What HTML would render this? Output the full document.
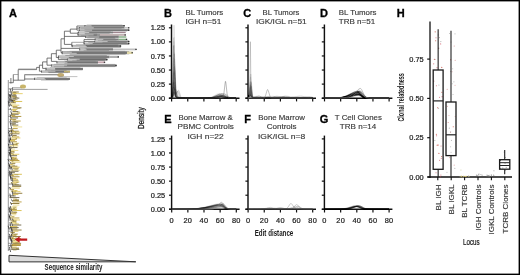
<!DOCTYPE html>
<html><head><meta charset="utf-8"><style>
html,body{margin:0;padding:0;background:#fff;}
body{width:520px;height:275px;overflow:hidden;}
svg{display:block;will-change:transform;}
text{font-family:"Liberation Sans", sans-serif;}
</style></head><body>
<svg width="520" height="275" viewBox="0 0 520 275">
<rect x="0" y="0" width="520" height="275" fill="#fff"/>
<line x1="171.5" y1="24.50" x2="171.5" y2="98.80" stroke="#111" stroke-width="1.45"/>
<line x1="168.90" y1="98.2" x2="239.50" y2="98.2" stroke="#111" stroke-width="1.4"/>
<line x1="168.90" y1="98.20" x2="171.5" y2="98.20" stroke="#111" stroke-width="1.2"/>
<text x="165.10" y="100.80" text-anchor="end" font-size="7.4" fill="#1e1e1e" stroke="#1e1e1e" stroke-width="0.22">0.00</text>
<line x1="168.90" y1="84.12" x2="171.5" y2="84.12" stroke="#111" stroke-width="1.2"/>
<text x="165.10" y="86.72" text-anchor="end" font-size="7.4" fill="#1e1e1e" stroke="#1e1e1e" stroke-width="0.22">0.25</text>
<line x1="168.90" y1="70.04" x2="171.5" y2="70.04" stroke="#111" stroke-width="1.2"/>
<text x="165.10" y="72.64" text-anchor="end" font-size="7.4" fill="#1e1e1e" stroke="#1e1e1e" stroke-width="0.22">0.50</text>
<line x1="168.90" y1="55.96" x2="171.5" y2="55.96" stroke="#111" stroke-width="1.2"/>
<text x="165.10" y="58.56" text-anchor="end" font-size="7.4" fill="#1e1e1e" stroke="#1e1e1e" stroke-width="0.22">0.75</text>
<line x1="168.90" y1="41.88" x2="171.5" y2="41.88" stroke="#111" stroke-width="1.2"/>
<text x="165.10" y="44.48" text-anchor="end" font-size="7.4" fill="#1e1e1e" stroke="#1e1e1e" stroke-width="0.22">1.00</text>
<line x1="168.90" y1="27.80" x2="171.5" y2="27.80" stroke="#111" stroke-width="1.2"/>
<text x="165.10" y="30.40" text-anchor="end" font-size="7.4" fill="#1e1e1e" stroke="#1e1e1e" stroke-width="0.22">1.25</text>
<line x1="171.60" y1="98.2" x2="171.60" y2="101.40" stroke="#111" stroke-width="1.2"/>
<line x1="187.75" y1="98.2" x2="187.75" y2="101.40" stroke="#111" stroke-width="1.2"/>
<line x1="203.90" y1="98.2" x2="203.90" y2="101.40" stroke="#111" stroke-width="1.2"/>
<line x1="220.05" y1="98.2" x2="220.05" y2="101.40" stroke="#111" stroke-width="1.2"/>
<line x1="236.20" y1="98.2" x2="236.20" y2="101.40" stroke="#111" stroke-width="1.2"/>
<line x1="248.0" y1="24.50" x2="248.0" y2="98.80" stroke="#111" stroke-width="1.45"/>
<line x1="245.40" y1="98.2" x2="316.00" y2="98.2" stroke="#111" stroke-width="1.4"/>
<line x1="245.40" y1="98.20" x2="248.0" y2="98.20" stroke="#111" stroke-width="1.2"/>
<line x1="245.40" y1="84.12" x2="248.0" y2="84.12" stroke="#111" stroke-width="1.2"/>
<line x1="245.40" y1="70.04" x2="248.0" y2="70.04" stroke="#111" stroke-width="1.2"/>
<line x1="245.40" y1="55.96" x2="248.0" y2="55.96" stroke="#111" stroke-width="1.2"/>
<line x1="245.40" y1="41.88" x2="248.0" y2="41.88" stroke="#111" stroke-width="1.2"/>
<line x1="245.40" y1="27.80" x2="248.0" y2="27.80" stroke="#111" stroke-width="1.2"/>
<line x1="248.10" y1="98.2" x2="248.10" y2="101.40" stroke="#111" stroke-width="1.2"/>
<line x1="264.25" y1="98.2" x2="264.25" y2="101.40" stroke="#111" stroke-width="1.2"/>
<line x1="280.40" y1="98.2" x2="280.40" y2="101.40" stroke="#111" stroke-width="1.2"/>
<line x1="296.55" y1="98.2" x2="296.55" y2="101.40" stroke="#111" stroke-width="1.2"/>
<line x1="312.70" y1="98.2" x2="312.70" y2="101.40" stroke="#111" stroke-width="1.2"/>
<line x1="324.4" y1="24.50" x2="324.4" y2="98.80" stroke="#111" stroke-width="1.45"/>
<line x1="321.80" y1="98.2" x2="392.40" y2="98.2" stroke="#111" stroke-width="1.4"/>
<line x1="321.80" y1="98.20" x2="324.4" y2="98.20" stroke="#111" stroke-width="1.2"/>
<line x1="321.80" y1="84.12" x2="324.4" y2="84.12" stroke="#111" stroke-width="1.2"/>
<line x1="321.80" y1="70.04" x2="324.4" y2="70.04" stroke="#111" stroke-width="1.2"/>
<line x1="321.80" y1="55.96" x2="324.4" y2="55.96" stroke="#111" stroke-width="1.2"/>
<line x1="321.80" y1="41.88" x2="324.4" y2="41.88" stroke="#111" stroke-width="1.2"/>
<line x1="321.80" y1="27.80" x2="324.4" y2="27.80" stroke="#111" stroke-width="1.2"/>
<line x1="324.50" y1="98.2" x2="324.50" y2="101.40" stroke="#111" stroke-width="1.2"/>
<line x1="340.65" y1="98.2" x2="340.65" y2="101.40" stroke="#111" stroke-width="1.2"/>
<line x1="356.80" y1="98.2" x2="356.80" y2="101.40" stroke="#111" stroke-width="1.2"/>
<line x1="372.95" y1="98.2" x2="372.95" y2="101.40" stroke="#111" stroke-width="1.2"/>
<line x1="389.10" y1="98.2" x2="389.10" y2="101.40" stroke="#111" stroke-width="1.2"/>
<line x1="171.6" y1="135.60" x2="171.6" y2="209.90" stroke="#111" stroke-width="1.45"/>
<line x1="169.00" y1="209.3" x2="239.60" y2="209.3" stroke="#111" stroke-width="1.4"/>
<line x1="169.00" y1="209.30" x2="171.6" y2="209.30" stroke="#111" stroke-width="1.2"/>
<text x="165.20" y="211.90" text-anchor="end" font-size="7.4" fill="#1e1e1e" stroke="#1e1e1e" stroke-width="0.22">0.00</text>
<line x1="169.00" y1="195.22" x2="171.6" y2="195.22" stroke="#111" stroke-width="1.2"/>
<text x="165.20" y="197.82" text-anchor="end" font-size="7.4" fill="#1e1e1e" stroke="#1e1e1e" stroke-width="0.22">0.25</text>
<line x1="169.00" y1="181.14" x2="171.6" y2="181.14" stroke="#111" stroke-width="1.2"/>
<text x="165.20" y="183.74" text-anchor="end" font-size="7.4" fill="#1e1e1e" stroke="#1e1e1e" stroke-width="0.22">0.50</text>
<line x1="169.00" y1="167.06" x2="171.6" y2="167.06" stroke="#111" stroke-width="1.2"/>
<text x="165.20" y="169.66" text-anchor="end" font-size="7.4" fill="#1e1e1e" stroke="#1e1e1e" stroke-width="0.22">0.75</text>
<line x1="169.00" y1="152.98" x2="171.6" y2="152.98" stroke="#111" stroke-width="1.2"/>
<text x="165.20" y="155.58" text-anchor="end" font-size="7.4" fill="#1e1e1e" stroke="#1e1e1e" stroke-width="0.22">1.00</text>
<line x1="169.00" y1="138.90" x2="171.6" y2="138.90" stroke="#111" stroke-width="1.2"/>
<text x="165.20" y="141.50" text-anchor="end" font-size="7.4" fill="#1e1e1e" stroke="#1e1e1e" stroke-width="0.22">1.25</text>
<line x1="171.70" y1="209.3" x2="171.70" y2="212.50" stroke="#111" stroke-width="1.2"/>
<text x="171.70" y="222.70" text-anchor="middle" font-size="7.4" letter-spacing="0.3" fill="#1e1e1e" stroke="#1e1e1e" stroke-width="0.22">0</text>
<line x1="187.85" y1="209.3" x2="187.85" y2="212.50" stroke="#111" stroke-width="1.2"/>
<text x="187.85" y="222.70" text-anchor="middle" font-size="7.4" letter-spacing="0.3" fill="#1e1e1e" stroke="#1e1e1e" stroke-width="0.22">20</text>
<line x1="204.00" y1="209.3" x2="204.00" y2="212.50" stroke="#111" stroke-width="1.2"/>
<text x="204.00" y="222.70" text-anchor="middle" font-size="7.4" letter-spacing="0.3" fill="#1e1e1e" stroke="#1e1e1e" stroke-width="0.22">40</text>
<line x1="220.15" y1="209.3" x2="220.15" y2="212.50" stroke="#111" stroke-width="1.2"/>
<text x="220.15" y="222.70" text-anchor="middle" font-size="7.4" letter-spacing="0.3" fill="#1e1e1e" stroke="#1e1e1e" stroke-width="0.22">60</text>
<line x1="236.30" y1="209.3" x2="236.30" y2="212.50" stroke="#111" stroke-width="1.2"/>
<text x="236.30" y="222.70" text-anchor="middle" font-size="7.4" letter-spacing="0.3" fill="#1e1e1e" stroke="#1e1e1e" stroke-width="0.22">80</text>
<line x1="248.0" y1="135.60" x2="248.0" y2="209.90" stroke="#111" stroke-width="1.45"/>
<line x1="245.40" y1="209.3" x2="316.00" y2="209.3" stroke="#111" stroke-width="1.4"/>
<line x1="245.40" y1="209.30" x2="248.0" y2="209.30" stroke="#111" stroke-width="1.2"/>
<line x1="245.40" y1="195.22" x2="248.0" y2="195.22" stroke="#111" stroke-width="1.2"/>
<line x1="245.40" y1="181.14" x2="248.0" y2="181.14" stroke="#111" stroke-width="1.2"/>
<line x1="245.40" y1="167.06" x2="248.0" y2="167.06" stroke="#111" stroke-width="1.2"/>
<line x1="245.40" y1="152.98" x2="248.0" y2="152.98" stroke="#111" stroke-width="1.2"/>
<line x1="245.40" y1="138.90" x2="248.0" y2="138.90" stroke="#111" stroke-width="1.2"/>
<line x1="248.10" y1="209.3" x2="248.10" y2="212.50" stroke="#111" stroke-width="1.2"/>
<text x="248.10" y="222.70" text-anchor="middle" font-size="7.4" letter-spacing="0.3" fill="#1e1e1e" stroke="#1e1e1e" stroke-width="0.22">0</text>
<line x1="264.25" y1="209.3" x2="264.25" y2="212.50" stroke="#111" stroke-width="1.2"/>
<text x="264.25" y="222.70" text-anchor="middle" font-size="7.4" letter-spacing="0.3" fill="#1e1e1e" stroke="#1e1e1e" stroke-width="0.22">20</text>
<line x1="280.40" y1="209.3" x2="280.40" y2="212.50" stroke="#111" stroke-width="1.2"/>
<text x="280.40" y="222.70" text-anchor="middle" font-size="7.4" letter-spacing="0.3" fill="#1e1e1e" stroke="#1e1e1e" stroke-width="0.22">40</text>
<line x1="296.55" y1="209.3" x2="296.55" y2="212.50" stroke="#111" stroke-width="1.2"/>
<text x="296.55" y="222.70" text-anchor="middle" font-size="7.4" letter-spacing="0.3" fill="#1e1e1e" stroke="#1e1e1e" stroke-width="0.22">60</text>
<line x1="312.70" y1="209.3" x2="312.70" y2="212.50" stroke="#111" stroke-width="1.2"/>
<text x="312.70" y="222.70" text-anchor="middle" font-size="7.4" letter-spacing="0.3" fill="#1e1e1e" stroke="#1e1e1e" stroke-width="0.22">80</text>
<line x1="324.4" y1="135.60" x2="324.4" y2="209.90" stroke="#111" stroke-width="1.45"/>
<line x1="321.80" y1="209.3" x2="392.40" y2="209.3" stroke="#111" stroke-width="1.4"/>
<line x1="321.80" y1="209.30" x2="324.4" y2="209.30" stroke="#111" stroke-width="1.2"/>
<line x1="321.80" y1="195.22" x2="324.4" y2="195.22" stroke="#111" stroke-width="1.2"/>
<line x1="321.80" y1="181.14" x2="324.4" y2="181.14" stroke="#111" stroke-width="1.2"/>
<line x1="321.80" y1="167.06" x2="324.4" y2="167.06" stroke="#111" stroke-width="1.2"/>
<line x1="321.80" y1="152.98" x2="324.4" y2="152.98" stroke="#111" stroke-width="1.2"/>
<line x1="321.80" y1="138.90" x2="324.4" y2="138.90" stroke="#111" stroke-width="1.2"/>
<line x1="324.50" y1="209.3" x2="324.50" y2="212.50" stroke="#111" stroke-width="1.2"/>
<text x="324.50" y="222.70" text-anchor="middle" font-size="7.4" letter-spacing="0.3" fill="#1e1e1e" stroke="#1e1e1e" stroke-width="0.22">0</text>
<line x1="340.65" y1="209.3" x2="340.65" y2="212.50" stroke="#111" stroke-width="1.2"/>
<text x="340.65" y="222.70" text-anchor="middle" font-size="7.4" letter-spacing="0.3" fill="#1e1e1e" stroke="#1e1e1e" stroke-width="0.22">20</text>
<line x1="356.80" y1="209.3" x2="356.80" y2="212.50" stroke="#111" stroke-width="1.2"/>
<text x="356.80" y="222.70" text-anchor="middle" font-size="7.4" letter-spacing="0.3" fill="#1e1e1e" stroke="#1e1e1e" stroke-width="0.22">40</text>
<line x1="372.95" y1="209.3" x2="372.95" y2="212.50" stroke="#111" stroke-width="1.2"/>
<text x="372.95" y="222.70" text-anchor="middle" font-size="7.4" letter-spacing="0.3" fill="#1e1e1e" stroke="#1e1e1e" stroke-width="0.22">60</text>
<line x1="389.10" y1="209.3" x2="389.10" y2="212.50" stroke="#111" stroke-width="1.2"/>
<text x="389.10" y="222.70" text-anchor="middle" font-size="7.4" letter-spacing="0.3" fill="#1e1e1e" stroke="#1e1e1e" stroke-width="0.22">80</text>
<polyline points="171.5,97.9 171.8,97.5 172.1,96.2 172.6,90.0 173.6,53.0 173.9,45.4 174.1,45.1 175.4,88.3 175.9,95.3 176.2,96.8 176.5,97.3 178.6,97.7 183.6,97.9 211.1,97.9 215.3,97.7 220.6,96.6 222.7,96.4 228.0,97.8 236.1,98.0" fill="none" stroke="#000" stroke-width="0.45" stroke-opacity="0.16"/>
<polyline points="171.5,97.9 172.1,97.7 172.6,97.0 172.8,94.0 174.1,89.5 174.4,88.7 174.7,88.5 175.4,88.9 176.2,90.2 178.3,96.5 179.1,97.4 180.1,97.7 187.5,97.9 212.4,98.0 216.1,97.8 223.3,97.0 228.7,97.9 236.1,98.0" fill="none" stroke="#000" stroke-width="0.45" stroke-opacity="0.16"/>
<polyline points="171.5,97.9 172.1,97.7 172.6,96.9 173.1,93.0 174.4,71.4 174.7,69.4 175.1,71.5 176.0,88.1 176.5,93.1 177.3,96.3 177.8,97.1 178.4,97.6 179.7,97.8 183.9,97.9 208.0,97.9 211.6,97.7 216.7,96.6 218.8,96.4 220.1,96.6 222.9,97.6 224.5,97.9 236.1,98.0" fill="none" stroke="#000" stroke-width="0.45" stroke-opacity="0.16"/>
<polyline points="171.5,97.8 172.0,96.9 172.3,95.0 173.0,85.9 173.4,82.6 173.8,83.9 174.9,95.5 175.4,96.8 176.2,97.3 179.4,97.7 184.3,97.9 211.9,97.9 215.8,97.4 220.9,95.5 223.0,95.2 224.1,95.5 226.7,97.1 228.3,97.7 230.4,98.0 236.1,98.0" fill="none" stroke="#000" stroke-width="0.45" stroke-opacity="0.16"/>
<polyline points="171.5,98.0 172.1,97.8 172.5,96.7 172.8,91.5 173.8,43.1 173.9,37.7 174.1,36.9 175.1,85.9 175.4,94.1 175.7,96.8 176.0,97.4 178.3,97.8 183.5,97.9 212.4,97.9 216.2,97.6 221.4,96.1 223.5,95.9 224.6,96.1 227.2,97.3 228.8,97.8 236.1,98.0" fill="none" stroke="#000" stroke-width="0.45" stroke-opacity="0.16"/>
<polyline points="171.5,98.0 172.3,97.9 172.6,96.9 173.1,85.4 173.8,60.6 174.1,66.7 174.7,92.5 175.1,96.1 175.5,96.9 178.8,97.6 183.6,97.9 210.3,97.9 212.2,97.6 214.0,97.0 219.1,93.9 221.1,93.4 222.2,93.8 225.0,96.6 226.7,97.7 229.0,98.0 236.1,98.0" fill="none" stroke="#000" stroke-width="0.45" stroke-opacity="0.16"/>
<polyline points="171.5,97.9 171.8,97.6 172.1,95.6 172.5,89.0 173.1,54.7 173.4,46.1 174.4,87.8 174.7,94.5 175.1,96.6 175.4,97.0 178.1,97.6 182.6,97.9 208.0,98.0 213.5,97.8 221.2,96.8 226.7,97.9 236.1,98.0" fill="none" stroke="#000" stroke-width="0.45" stroke-opacity="0.16"/>
<polyline points="171.5,98.0 172.6,98.0 172.8,96.7 173.1,96.6 173.4,96.0 174.4,92.5 174.7,93.1 175.7,97.1 176.2,97.5 177.5,97.7 185.6,98.0 212.8,97.9 216.6,97.7 221.7,96.8 223.8,96.7 229.2,97.9 236.1,98.0" fill="none" stroke="#000" stroke-width="0.45" stroke-opacity="0.16"/>
<polyline points="171.5,98.0 172.0,97.9 172.3,97.4 172.6,94.1 173.3,65.2 173.6,57.7 174.4,90.5 174.7,95.7 174.9,96.5 175.2,96.9 178.1,97.6 182.8,97.9 209.3,98.0 214.0,97.7 219.6,96.6 221.7,96.4 227.1,97.8 236.1,98.0" fill="none" stroke="#000" stroke-width="0.45" stroke-opacity="0.16"/>
<polyline points="171.5,97.9 172.0,97.4 172.3,96.8 172.6,95.7 172.8,93.8 173.3,92.2 173.6,91.7 173.9,92.1 175.1,94.9 175.4,95.0 176.2,94.6 176.7,94.7 178.6,97.2 179.3,97.6 180.2,97.8 193.0,98.0 214.8,97.8 218.2,97.2 223.3,94.4 225.4,94.0 226.6,94.4 229.0,96.6 230.4,97.5 232.4,97.9 236.1,98.0" fill="none" stroke="#000" stroke-width="0.45" stroke-opacity="0.16"/>
<polyline points="171.5,98.0 172.6,98.0 172.8,96.8 173.1,96.7 173.4,95.9 174.6,85.5 175.7,96.3 176.0,97.3 176.5,97.6 185.4,98.0 204.3,98.0 208.5,97.8 210.3,97.5 211.9,97.0 213.5,96.1 217.0,93.8 219.0,93.2 220.1,93.7 223.0,96.7 224.8,97.7 227.1,98.0 236.1,98.0" fill="none" stroke="#000" stroke-width="0.45" stroke-opacity="0.16"/>
<polyline points="171.5,97.7 172.0,97.0 172.5,95.1 172.8,91.3 173.4,87.5 173.8,86.8 174.1,87.4 175.1,92.8 175.7,94.8 177.8,97.0 179.3,97.7 186.8,98.0 211.9,97.9 215.4,97.6 220.4,96.4 222.5,96.2 223.7,96.3 226.4,97.5 228.0,97.8 236.1,98.0" fill="none" stroke="#000" stroke-width="0.45" stroke-opacity="0.16"/>
<polyline points="171.5,97.9 171.8,97.6 172.1,96.5 172.6,89.6 173.6,47.4 173.9,41.4 174.2,47.9 175.2,89.4 175.5,94.8 175.9,96.8 176.2,97.5 177.8,97.8 183.1,97.9 213.3,97.9 217.4,97.7 222.5,96.6 224.6,96.4 225.8,96.6 229.8,97.8 236.1,98.0" fill="none" stroke="#000" stroke-width="0.45" stroke-opacity="0.16"/>
<polyline points="171.5,98.0 172.1,97.9 172.6,97.5 172.8,94.6 173.3,93.6 174.2,89.8 174.6,89.4 175.1,90.4 176.0,95.1 176.5,96.5 177.2,97.2 178.4,97.5 186.5,97.9 214.1,97.9 217.9,97.7 223.2,96.5 225.1,96.4 226.2,96.5 230.3,97.8 236.1,98.0" fill="none" stroke="#000" stroke-width="0.45" stroke-opacity="0.16"/>
<polyline points="171.5,97.9 172.1,97.6 172.6,96.7 173.4,90.1 174.2,79.7 174.6,77.5 174.7,77.5 175.1,79.2 175.9,88.1 176.5,93.1 177.5,96.5 178.0,97.2 178.6,97.6 180.2,97.8 185.9,98.0 209.6,97.8 213.0,97.2 218.0,94.8 220.1,94.4 221.4,94.9 224.1,97.1 225.8,97.7 228.0,98.0 236.1,98.0" fill="none" stroke="#000" stroke-width="0.45" stroke-opacity="0.16"/>
<polyline points="171.5,98.0 172.1,97.9 172.6,97.6 172.8,95.6 173.3,94.3 174.4,88.6 174.6,88.7 174.9,89.8 176.0,96.3 176.5,97.2 177.5,97.5 185.1,97.9 208.0,97.9 211.6,97.6 216.7,96.5 218.8,96.2 220.1,96.5 223.0,97.6 224.6,97.9 236.1,98.0" fill="none" stroke="#000" stroke-width="0.45" stroke-opacity="0.16"/>
<polyline points="171.5,98.0 172.1,97.9 172.6,97.7 173.4,94.6 174.2,90.1 174.6,89.5 174.9,90.4 175.9,95.8 176.3,97.0 176.8,97.1 178.0,96.7 178.6,96.6 180.4,97.6 181.4,97.8 209.9,97.9 213.2,97.4 218.2,95.7 220.3,95.4 221.4,95.6 224.1,97.2 225.9,97.8 228.2,98.0 236.1,98.0" fill="none" stroke="#000" stroke-width="0.45" stroke-opacity="0.16"/>
<polyline points="171.5,97.9 171.8,97.6 172.1,96.7 172.5,94.4 173.4,74.4 173.8,72.4 175.1,88.3 177.3,95.8 178.0,97.0 178.6,97.5 180.4,97.8 185.9,97.9 214.6,97.9 218.3,97.3 223.3,95.0 225.4,94.5 226.6,94.9 229.2,96.9 230.6,97.6 232.4,97.9 236.1,98.0" fill="none" stroke="#000" stroke-width="0.45" stroke-opacity="0.16"/>
<polyline points="171.5,98.0 172.6,98.0 172.8,97.1 173.3,96.5 173.9,93.5 174.2,93.0 175.2,97.1 175.5,97.5 176.3,97.7 186.8,98.0 208.6,98.0 212.8,97.8 214.6,97.5 216.2,97.0 217.9,96.2 221.4,93.9 223.3,93.3 224.5,93.7 227.2,96.6 228.8,97.6 230.9,97.9 236.1,98.0" fill="none" stroke="#000" stroke-width="0.45" stroke-opacity="0.16"/>
<polyline points="171.5,98.0 172.1,97.7 172.6,96.2 173.3,84.8 173.9,67.6 174.2,63.9 174.6,67.2 175.5,91.6 176.0,96.1 176.3,97.0 176.7,97.3 179.4,97.7 184.1,97.9 208.0,97.9 211.7,97.4 216.9,95.3 218.8,95.0 220.0,95.3 222.9,97.2 224.6,97.8 227.1,98.0 236.1,98.0" fill="none" stroke="#000" stroke-width="0.45" stroke-opacity="0.16"/>
<polyline points="171.5,98.0 172.1,97.6 172.6,96.3 173.3,87.6 174.2,68.6 174.6,66.1 175.1,70.5 176.2,92.4 176.7,96.0 177.0,96.9 177.5,97.3 180.2,97.7 185.1,97.9 210.1,97.9 213.7,97.3 218.8,94.9 220.9,94.4 222.2,94.9 225.0,97.1 226.6,97.7 228.8,98.0 236.1,98.0" fill="none" stroke="#000" stroke-width="0.45" stroke-opacity="0.16"/>
<polyline points="171.5,98.0 172.3,97.9 172.6,97.6 173.3,91.3 174.2,63.1 174.6,58.8 174.9,63.6 175.9,92.4 176.2,95.8 176.5,97.0 176.8,97.4 179.4,97.7 184.4,97.9 211.9,97.9 215.6,97.5 220.8,95.9 222.9,95.6 224.0,95.9 226.7,97.3 228.3,97.8 236.1,98.0" fill="none" stroke="#000" stroke-width="0.45" stroke-opacity="0.16"/>
<polyline points="171.5,98.0 172.6,97.9 172.8,95.7 173.1,94.8 173.3,93.4 174.2,71.1 175.1,92.2 175.4,96.1 175.5,96.7 175.9,97.1 178.9,97.7 183.8,97.9 212.2,97.9 216.2,97.5 221.6,95.9 223.7,95.6 224.8,95.9 227.4,97.3 229.0,97.8 230.9,97.9 236.1,98.0" fill="none" stroke="#000" stroke-width="0.45" stroke-opacity="0.16"/>
<polyline points="171.5,98.0 172.1,97.7 172.6,95.5 173.1,85.4 173.9,57.5 174.1,54.7 174.2,54.4 175.5,92.2 175.9,95.7 176.2,97.0 176.5,97.4 179.1,97.7 183.9,97.9 207.8,97.9 211.4,97.3 216.4,95.2 218.5,94.8 219.6,95.1 222.5,97.1 224.3,97.8 226.7,98.0 236.1,98.0" fill="none" stroke="#000" stroke-width="0.45" stroke-opacity="0.16"/>
<polyline points="171.5,97.6 172.0,96.5 172.3,94.6 173.3,82.8 173.6,80.6 173.8,80.4 174.1,82.0 175.2,94.4 175.7,96.6 176.0,97.2 176.5,97.5 179.1,97.8 183.8,97.9 208.5,98.0 212.7,97.8 220.3,97.1 225.9,97.9 236.1,98.0" fill="none" stroke="#000" stroke-width="0.45" stroke-opacity="0.16"/>
<polyline points="171.5,98.0 172.6,97.9 172.8,96.5 173.1,96.3 173.4,95.5 174.2,91.5 174.6,92.2 175.2,96.1 175.5,97.0 176.0,97.4 177.3,97.6 186.5,98.0 210.9,97.8 212.7,97.6 214.3,97.1 215.9,96.3 219.5,94.2 220.6,93.7 221.6,93.6 222.7,94.1 225.4,96.8 227.1,97.6 229.3,97.9 236.1,98.0" fill="none" stroke="#000" stroke-width="0.45" stroke-opacity="0.16"/>
<polyline points="171.5,98.0 172.6,97.9 172.8,95.9 173.1,95.3 173.4,93.1 174.2,83.5 174.6,85.3 175.4,95.6 175.7,96.9 176.3,97.4 179.6,97.7 184.6,97.9 213.7,97.9 217.4,97.5 222.7,95.9 224.8,95.6 225.9,95.9 228.5,97.3 230.0,97.7 231.9,97.9 236.1,98.0" fill="none" stroke="#000" stroke-width="0.45" stroke-opacity="0.16"/>
<polyline points="171.5,98.0 172.3,97.9 172.6,97.3 173.6,82.5 173.8,80.7 173.9,80.7 174.9,95.7 175.2,97.1 175.7,97.4 179.1,97.8 184.4,97.9 212.7,97.8 214.6,97.6 216.2,97.1 217.9,96.3 221.4,94.0 222.5,93.5 223.5,93.4 224.6,93.9 227.2,96.6 228.8,97.6 230.9,97.9 236.1,98.0" fill="none" stroke="#000" stroke-width="0.45" stroke-opacity="0.16"/>
<polyline points="171.5,97.9 172.0,97.6 172.5,96.2 172.8,92.0 173.4,87.6 173.8,86.8 174.9,90.9 176.0,92.1 177.6,96.2 178.4,97.2 179.4,97.6 187.2,97.9 211.2,97.9 214.8,97.5 219.8,96.2 221.9,95.9 223.0,96.1 225.8,97.4 227.4,97.8 236.1,98.0" fill="none" stroke="#000" stroke-width="0.45" stroke-opacity="0.16"/>
<polyline points="171.5,98.0 172.6,97.9 172.8,96.1 173.1,96.1 173.4,95.7 174.4,92.6 174.7,92.3 176.2,97.0 176.8,97.4 178.6,97.7 187.5,98.0 208.2,97.8 211.6,97.2 216.6,94.8 218.7,94.3 220.0,94.8 222.9,97.2 224.5,97.8 226.7,98.0 236.1,98.0" fill="none" stroke="#000" stroke-width="0.45" stroke-opacity="0.16"/>
<polyline points="171.5,97.9 172.0,97.5 172.5,96.6 173.1,93.6 173.6,92.3 173.9,92.1 174.2,92.4 175.4,95.3 176.0,96.4 177.3,97.4 178.8,97.8 187.2,98.0 213.7,97.9 217.2,97.6 222.2,96.4 224.3,96.2 225.4,96.4 228.0,97.4 229.6,97.8 236.1,98.0" fill="none" stroke="#000" stroke-width="0.45" stroke-opacity="0.16"/>
<polyline points="171.5,97.5 172.0,96.0 172.3,93.9 172.8,86.8 173.4,82.3 173.6,82.4 173.9,84.5 175.1,95.2 175.5,96.7 176.3,97.3 179.6,97.7 184.7,97.9 213.3,97.9 215.3,97.6 217.0,97.0 218.7,96.2 222.0,94.0 223.2,93.5 224.1,93.4 225.3,93.8 227.9,96.5 229.5,97.5 231.4,97.9 236.1,98.0" fill="none" stroke="#000" stroke-width="0.45" stroke-opacity="0.16"/>
<polyline points="171.5,97.8 172.0,97.3 172.5,95.9 173.4,88.2 173.9,86.9 176.7,95.8 177.5,97.2 178.6,97.7 186.2,98.0 209.1,97.9 212.5,97.6 217.5,96.3 219.6,96.1 220.8,96.3 223.5,97.4 225.3,97.8 236.1,98.0" fill="none" stroke="#000" stroke-width="0.45" stroke-opacity="0.16"/>
<polyline points="171.5,98.0 172.1,97.8 172.6,96.8 174.1,74.0 174.2,72.7 174.4,72.6 175.4,88.1 175.9,93.0 176.0,93.5 176.2,93.7 176.3,93.6 177.3,91.3 177.6,91.0 178.0,91.1 178.4,92.0 179.9,96.3 180.4,97.1 181.0,97.6 182.3,97.8 186.7,97.9 213.8,97.9 217.7,97.7 222.9,96.9 225.0,96.8 230.1,97.9 236.1,98.0" fill="none" stroke="#000" stroke-width="0.45" stroke-opacity="0.16"/>
<polyline points="171.5,98.0 172.6,98.0 172.8,95.5 173.1,95.3 173.3,94.9 174.2,82.5 174.4,82.2 175.4,95.3 175.7,96.7 176.3,97.2 179.6,97.7 184.3,97.9 210.1,97.9 213.8,97.4 219.0,95.3 221.1,94.9 222.4,95.3 225.1,97.2 226.7,97.8 229.0,98.0 236.1,98.0" fill="none" stroke="#000" stroke-width="0.45" stroke-opacity="0.16"/>
<polyline points="171.5,97.9 172.1,97.3 172.6,95.8 172.8,92.8 173.9,83.8 174.4,81.5 174.6,81.5 174.9,82.7 175.7,88.5 176.2,90.7 176.5,91.2 177.3,91.3 177.6,91.6 179.6,96.6 180.2,97.4 180.9,97.7 188.6,98.0 213.7,97.9 217.0,97.3 222.2,95.0 224.3,94.6 225.4,95.0 228.0,97.0 229.5,97.6 231.4,97.9 236.1,98.0" fill="none" stroke="#000" stroke-width="0.45" stroke-opacity="0.16"/>
<polyline points="171.5,94.9 172.0,88.3 172.3,80.1 173.3,43.7 173.6,38.1 173.8,37.8 174.2,47.1 175.5,89.0 176.0,94.7 176.3,96.2 176.8,97.1 177.5,97.4 179.1,97.6 184.1,97.9 212.5,97.9 216.7,97.6 222.0,96.1 224.1,95.9 225.3,96.1 227.9,97.4 229.3,97.8 236.1,98.0" fill="none" stroke="#000" stroke-width="0.45" stroke-opacity="0.16"/>
<polyline points="171.5,98.0 172.6,97.9 172.8,97.1 173.1,97.0 173.4,96.4 174.2,93.3 174.6,92.8 175.7,96.9 176.2,97.6 176.8,97.7 185.9,98.0 213.2,97.9 216.7,97.4 221.9,95.5 224.0,95.2 225.1,95.5 227.7,97.2 229.2,97.7 231.3,97.9 236.1,98.0" fill="none" stroke="#000" stroke-width="0.45" stroke-opacity="0.16"/>
<polyline points="171.5,97.9 172.6,97.5 172.8,95.6 173.1,95.1 173.4,92.6 174.2,59.2 174.4,54.0 174.6,53.7 175.5,88.6 175.9,91.0 177.0,94.7 177.6,96.4 178.4,97.4 179.7,97.8 183.6,97.9 208.2,97.9 212.0,97.7 217.4,96.7 219.5,96.5 220.6,96.7 223.5,97.6 225.1,97.9 236.1,98.0" fill="none" stroke="#000" stroke-width="0.45" stroke-opacity="0.16"/>
<polyline points="171.5,97.8 172.1,96.8 172.6,93.9 173.9,71.0 174.2,67.8 174.4,67.6 174.9,72.3 175.9,89.7 176.3,93.6 176.5,94.1 176.7,94.2 176.8,94.1 178.1,90.5 178.6,90.2 179.3,91.4 180.7,96.3 181.2,97.1 181.8,97.7 182.8,97.9 186.0,97.9 208.5,97.9 211.9,97.6 216.9,96.5 219.0,96.3 220.3,96.5 223.2,97.6 224.8,97.9 236.1,98.0" fill="none" stroke="#000" stroke-width="0.45" stroke-opacity="0.16"/>
<polyline points="171.5,97.5 172.0,95.9 172.3,93.3 173.3,76.1 173.8,71.4 173.9,71.6 174.2,74.9 175.4,93.2 175.9,96.3 176.2,97.1 176.7,97.5 179.3,97.8 184.3,97.9 211.4,97.9 215.1,97.6 220.3,96.2 222.4,95.9 223.5,96.1 226.2,97.4 227.9,97.8 236.1,98.0" fill="none" stroke="#000" stroke-width="0.45" stroke-opacity="0.16"/>
<polyline points="171.5,97.9 172.1,97.8 172.6,97.3 172.8,95.8 173.9,92.1 174.2,91.3 174.6,91.0 175.1,92.1 176.3,96.7 177.0,97.5 177.8,97.7 186.8,98.0 211.6,97.9 214.9,97.3 220.1,95.2 222.2,94.9 223.3,95.2 226.2,97.2 227.7,97.8 229.8,98.0 236.1,98.0" fill="none" stroke="#000" stroke-width="0.45" stroke-opacity="0.16"/>
<polyline points="171.5,98.0 172.1,97.6 172.6,95.8 173.8,76.2 174.1,73.3 174.4,75.2 175.5,94.1 176.0,96.6 176.7,97.3 179.7,97.7 184.4,97.9 211.1,97.9 214.8,97.5 220.0,95.9 222.0,95.6 223.2,95.8 225.9,97.3 227.5,97.8 229.6,98.0 236.1,98.0" fill="none" stroke="#000" stroke-width="0.45" stroke-opacity="0.16"/>
<polyline points="171.5,98.0 172.1,97.6 172.6,95.6 174.1,67.0 174.2,67.1 174.4,68.8 175.5,93.0 176.0,96.3 176.3,97.0 176.7,97.2 179.7,97.7 184.7,97.9 210.6,97.8 212.5,97.6 214.1,97.0 215.8,96.2 219.3,93.9 220.4,93.5 221.4,93.4 222.5,93.9 225.4,96.9 226.9,97.6 229.2,97.9 236.1,98.0" fill="none" stroke="#000" stroke-width="0.45" stroke-opacity="0.16"/>
<polyline points="171.5,98.0 172.1,97.7 172.6,96.8 172.8,94.9 173.4,92.4 173.8,91.9 174.1,92.4 174.9,96.0 175.4,97.1 176.0,97.5 177.5,97.7 186.2,98.0 214.1,97.9 217.7,97.4 222.9,95.6 225.0,95.3 226.1,95.6 228.7,97.2 230.1,97.7 232.1,97.9 236.1,98.0" fill="none" stroke="#000" stroke-width="0.45" stroke-opacity="0.16"/>
<polyline points="171.5,97.2 172.0,93.9 172.3,88.2 173.3,52.1 173.6,45.4 173.8,45.4 175.1,87.4 175.5,94.9 175.9,96.7 176.2,97.3 177.3,97.7 182.3,97.9 207.4,97.9 211.2,97.7 216.4,96.6 218.5,96.4 219.8,96.6 222.7,97.6 224.3,97.9 236.1,98.0" fill="none" stroke="#000" stroke-width="0.45" stroke-opacity="0.16"/>
<polyline points="171.5,98.0 172.6,97.8 172.8,96.4 173.3,94.8 174.1,87.5 174.2,86.7 174.4,86.6 175.5,94.0 175.7,94.1 175.9,94.0 176.8,91.9 177.3,91.6 177.8,92.3 179.4,96.6 180.1,97.4 180.9,97.8 189.7,98.0 209.0,97.9 212.2,97.3 217.2,95.5 219.1,95.1 220.3,95.4 223.2,97.2 225.0,97.8 227.2,98.0 236.1,98.0" fill="none" stroke="#000" stroke-width="0.45" stroke-opacity="0.16"/>
<polyline points="171.5,97.9 172.0,97.3 172.5,94.9 173.3,84.6 173.6,82.5 173.8,82.4 174.7,90.2 175.2,92.5 175.5,92.7 176.2,92.6 176.5,92.8 178.4,96.7 179.1,97.4 179.7,97.7 186.5,97.9 208.8,97.9 212.4,97.6 217.4,96.5 219.5,96.3 220.8,96.5 223.7,97.6 225.3,97.9 236.1,98.0" fill="none" stroke="#000" stroke-width="0.45" stroke-opacity="0.16"/>
<polyline points="171.5,98.0 172.1,97.5 172.6,95.0 173.9,57.2 174.2,52.5 174.6,56.6 175.7,91.6 176.0,95.2 176.3,96.7 176.7,97.2 179.1,97.6 183.9,97.9 209.1,97.9 211.1,97.7 212.8,97.2 218.0,94.6 220.1,94.2 221.2,94.7 224.1,97.1 225.8,97.7 228.0,98.0 236.1,98.0" fill="none" stroke="#000" stroke-width="0.45" stroke-opacity="0.16"/>
<polyline points="171.5,98.0 172.6,97.9 172.8,96.7 173.1,96.5 173.4,95.8 174.6,88.3 174.9,89.3 175.5,94.6 175.9,95.8 176.2,96.0 176.5,95.4 177.8,90.9 178.1,90.2 178.4,89.9 178.8,90.2 179.1,90.9 180.7,96.5 181.4,97.4 182.3,97.9 214.3,97.9 217.7,97.7 222.7,96.8 224.8,96.6 225.9,96.7 230.0,97.8 236.1,98.0" fill="none" stroke="#000" stroke-width="0.45" stroke-opacity="0.16"/>
<polyline points="171.5,98.0 172.6,97.9 172.8,95.8 173.1,95.8 173.4,95.2 174.2,91.9 174.4,91.8 174.6,92.1 175.2,95.1 175.7,96.0 176.3,95.0 177.5,91.8 177.8,91.3 178.1,91.1 178.8,92.1 180.4,96.7 181.0,97.5 182.0,97.8 191.0,98.0 209.0,97.9 212.2,97.4 217.2,95.8 219.3,95.5 220.6,95.9 223.3,97.4 225.0,97.8 236.1,98.0" fill="none" stroke="#000" stroke-width="0.45" stroke-opacity="0.16"/>
<polyline points="171.5,98.0 172.6,98.0 172.8,97.8 173.2,94.3 174.0,25.2 174.3,35.2 174.8,85.7 175.0,95.2 175.4,97.8 176.0,98.0 236.1,98.0" fill="none" stroke="#999" stroke-width="0.5" stroke-opacity="0.5"/>
<polyline points="171.5,98.0 212.0,98.0 214.9,97.8 217.2,97.3 220.8,96.0 222.9,95.6 223.3,95.1 224.0,92.6 225.0,83.9 225.4,81.4 225.6,81.5 225.9,83.0 227.1,93.8 227.4,95.6 227.9,97.0 228.5,97.6 229.6,97.8 236.1,98.0" fill="none" stroke="#555" stroke-width="0.55" stroke-opacity="0.75"/>
<polyline points="248.0,95.7 248.8,96.3 249.1,95.9 250.1,86.7 251.1,96.5 251.4,97.3 252.0,97.5 257.5,97.9 275.1,98.0 278.0,97.8 283.0,97.2 289.3,97.9 293.2,97.7 298.7,97.9 306.0,97.6 312.6,97.9" fill="none" stroke="#000" stroke-width="0.45" stroke-opacity="0.15"/>
<polyline points="248.0,95.7 249.1,96.5 249.5,96.2 250.3,90.4 251.1,97.0 251.4,97.4 253.0,97.7 260.8,97.9 262.1,97.7 264.1,96.9 265.0,96.8 267.9,97.7 270.0,98.0 278.2,97.9 283.5,97.6 290.8,98.0 302.7,98.0 309.7,97.6 312.6,97.7" fill="none" stroke="#000" stroke-width="0.45" stroke-opacity="0.15"/>
<polyline points="248.0,95.6 248.5,95.6 248.8,95.2 249.8,92.4 250.1,91.9 250.6,92.6 251.6,95.9 252.2,96.8 255.8,96.7 260.9,97.8 278.0,97.9 280.0,97.8 283.5,97.0 287.2,97.8 289.2,97.9 293.7,97.9 297.7,97.2 302.3,97.9 312.6,98.0" fill="none" stroke="#000" stroke-width="0.45" stroke-opacity="0.15"/>
<polyline points="248.0,95.7 248.5,96.1 248.8,96.1 249.1,95.4 250.3,84.9 250.6,86.4 251.4,95.8 251.7,97.1 252.4,97.6 259.3,98.0 273.2,98.0 277.4,97.6 280.3,97.8 281.3,97.7 283.4,96.7 286.4,97.9 292.1,98.0 294.8,97.8 298.5,96.9 299.8,96.7 305.5,97.9 312.6,98.0" fill="none" stroke="#000" stroke-width="0.45" stroke-opacity="0.15"/>
<polyline points="248.0,95.7 249.1,96.5 249.6,96.3 249.9,95.0 250.7,89.4 251.1,90.3 251.9,96.6 252.2,97.4 252.8,97.7 256.7,97.9 261.9,97.9 269.2,96.9 274.2,97.7 276.3,97.8 283.0,96.8 290.5,97.9 293.2,97.8 298.5,97.3 304.7,97.9 312.6,98.0" fill="none" stroke="#000" stroke-width="0.45" stroke-opacity="0.15"/>
<polyline points="248.0,95.7 249.0,96.3 249.3,96.1 249.6,95.4 250.7,87.7 251.1,86.6 251.4,87.4 252.7,96.5 253.2,97.5 253.8,97.8 259.1,98.0 277.2,98.0 278.7,97.9 280.9,97.3 284.0,97.9 290.5,98.0 292.6,97.8 294.8,97.0 295.8,96.8 303.4,97.9 312.6,98.0" fill="none" stroke="#000" stroke-width="0.45" stroke-opacity="0.15"/>
<polyline points="248.0,95.7 248.8,96.3 249.5,96.5 250.7,95.0 251.1,95.2 251.9,97.0 252.4,97.5 253.3,97.7 256.1,97.9 268.8,97.9 276.4,97.0 284.5,97.9 287.2,97.8 291.8,97.1 297.7,97.9 302.6,97.9 307.8,97.4 312.6,97.9" fill="none" stroke="#000" stroke-width="0.45" stroke-opacity="0.15"/>
<polyline points="248.0,95.7 248.6,96.1 249.0,96.0 249.5,94.0 250.6,76.1 250.9,74.0 251.2,76.7 252.2,93.3 252.7,96.3 253.2,97.0 256.1,96.8 259.8,97.7 261.6,97.9 266.7,97.5 274.5,98.0 312.6,98.0" fill="none" stroke="#000" stroke-width="0.45" stroke-opacity="0.15"/>
<polyline points="248.0,95.7 248.5,95.8 249.0,95.3 250.1,90.7 250.4,90.4 250.7,91.2 251.9,96.5 252.4,97.3 253.0,97.6 254.8,97.5 258.8,96.8 263.2,97.8 265.6,98.0 275.9,97.9 283.2,97.1 290.5,97.9 302.7,98.0 306.0,97.8 310.2,96.8 312.6,97.1" fill="none" stroke="#000" stroke-width="0.45" stroke-opacity="0.15"/>
<polyline points="248.0,95.7 248.8,95.9 250.1,95.1 250.6,95.6 251.4,96.9 252.0,97.5 253.2,97.7 255.9,97.9 272.7,97.9 280.3,96.7 281.4,96.8 283.9,97.8 285.5,97.9 286.6,97.7 288.4,96.8 289.0,96.6 289.7,96.8 291.4,97.7 292.7,97.9 312.6,98.0" fill="none" stroke="#000" stroke-width="0.45" stroke-opacity="0.15"/>
<polyline points="248.0,95.7 249.0,96.4 249.3,96.4 249.5,96.1 250.3,88.9 250.4,87.8 250.6,87.8 251.4,95.9 251.7,97.2 252.4,97.6 254.1,97.6 256.9,96.8 259.6,97.7 261.1,97.9 268.2,97.9 271.3,97.5 274.2,97.9 280.8,98.0 282.9,97.8 286.1,96.9 289.3,97.8 291.0,97.9 312.6,98.0" fill="none" stroke="#000" stroke-width="0.45" stroke-opacity="0.15"/>
<polyline points="248.0,95.7 248.3,95.8 248.6,95.7 249.1,94.3 250.1,86.3 250.4,84.5 250.6,84.4 250.9,85.9 251.9,94.5 252.4,96.4 252.8,96.9 253.7,96.9 256.6,96.0 257.9,95.9 259.5,96.2 263.5,97.6 266.6,97.9 274.5,97.9 281.4,97.5 289.5,98.0 312.6,98.0" fill="none" stroke="#000" stroke-width="0.45" stroke-opacity="0.15"/>
<polyline points="248.0,95.7 248.6,95.9 249.1,95.0 250.3,87.1 250.6,85.6 250.7,85.6 251.1,86.9 252.2,95.8 252.7,97.2 253.5,97.7 259.0,98.0 273.0,97.9 275.9,97.6 279.5,96.6 280.6,96.5 285.5,97.4 288.7,97.0 291.1,97.8 292.6,98.0 312.6,98.0" fill="none" stroke="#000" stroke-width="0.45" stroke-opacity="0.15"/>
<polyline points="248.0,95.7 249.3,96.6 249.8,96.6 250.6,92.8 250.7,92.7 251.4,96.5 251.7,97.4 252.2,97.6 253.8,97.8 260.4,98.0 276.7,97.9 279.8,97.5 285.1,96.0 286.6,95.8 287.7,96.0 290.8,97.1 296.3,97.9 312.6,98.0" fill="none" stroke="#000" stroke-width="0.45" stroke-opacity="0.15"/>
<polyline points="248.0,95.7 249.8,96.8 250.1,96.7 250.9,95.5 252.0,97.5 255.9,97.9 270.1,97.9 271.6,97.8 274.8,96.9 277.9,97.8 279.5,97.9 282.1,97.8 286.1,97.0 287.4,97.1 291.3,97.9 295.0,98.0 299.4,97.8 304.8,97.0 310.0,97.8 312.6,98.0" fill="none" stroke="#000" stroke-width="0.45" stroke-opacity="0.15"/>
<polyline points="248.0,95.7 249.1,96.6 249.9,96.8 250.3,96.5 250.9,94.9 251.7,97.0 252.2,97.5 254.1,97.7 256.7,97.4 260.6,98.0 272.5,98.0 278.5,97.6 284.7,98.0 300.8,98.0 304.2,97.7 309.4,96.7 310.8,96.8 312.6,97.1" fill="none" stroke="#000" stroke-width="0.45" stroke-opacity="0.15"/>
<polyline points="248.0,95.7 249.8,96.8 250.1,96.6 250.7,95.5 251.4,97.1 251.7,97.5 255.9,97.9 267.9,97.9 269.6,97.6 273.0,96.6 274.5,96.4 275.8,96.5 279.2,97.7 281.4,97.9 287.6,97.9 292.7,97.0 298.4,97.9 312.6,98.0" fill="none" stroke="#000" stroke-width="0.45" stroke-opacity="0.15"/>
<polyline points="248.0,95.7 249.0,96.4 249.3,95.7 250.1,82.4 250.3,82.4 250.4,84.9 250.9,94.8 251.2,97.0 251.7,97.5 256.7,97.9 269.0,97.9 271.1,97.6 275.1,96.4 277.6,96.0 278.8,96.3 281.3,97.6 282.9,97.9 289.8,97.5 296.5,98.0 312.6,98.0" fill="none" stroke="#000" stroke-width="0.45" stroke-opacity="0.15"/>
<polyline points="248.0,95.7 248.8,96.1 249.3,94.9 250.4,84.7 250.7,86.0 251.7,96.1 252.0,97.2 252.7,97.6 254.9,97.6 259.3,96.8 264.0,97.7 266.9,97.9 300.6,98.0 306.5,97.3 310.3,97.9 312.6,98.0" fill="none" stroke="#000" stroke-width="0.45" stroke-opacity="0.15"/>
<polyline points="248.0,95.7 249.3,96.6 249.6,96.5 249.8,96.0 250.1,93.6 250.7,84.1 250.9,83.7 251.9,96.1 252.2,97.3 252.7,97.6 254.3,97.7 255.4,97.6 258.2,96.0 259.0,95.9 259.8,96.1 262.2,97.6 264.3,98.0 288.7,98.0 293.7,97.6 298.2,98.0 312.6,98.0" fill="none" stroke="#000" stroke-width="0.45" stroke-opacity="0.15"/>
<polyline points="248.0,95.7 248.6,96.2 249.1,96.1 250.4,93.7 250.7,93.9 251.6,96.4 252.0,97.3 252.5,97.6 253.8,97.8 256.4,97.7 261.1,97.1 265.8,97.8 268.2,97.9 273.4,97.9 279.2,97.4 286.0,97.9 297.6,98.0 300.6,97.7 304.8,96.8 306.5,96.7 312.6,97.8" fill="none" stroke="#000" stroke-width="0.45" stroke-opacity="0.15"/>
<polyline points="248.0,95.7 248.8,96.2 249.1,95.8 249.3,95.0 250.4,76.5 250.7,79.5 251.6,95.3 251.9,97.0 252.4,97.6 257.4,97.9 270.4,97.9 272.5,97.6 275.0,96.7 275.9,96.5 276.9,96.7 279.2,97.7 280.9,98.0 300.3,98.0 305.0,97.3 308.7,97.9 312.6,98.0" fill="none" stroke="#000" stroke-width="0.45" stroke-opacity="0.15"/>
<polyline points="248.0,95.7 248.8,96.3 249.3,96.4 249.8,95.1 250.7,82.6 250.9,81.4 251.1,81.3 252.2,95.6 252.5,97.1 252.8,97.6 253.2,97.7 259.0,98.0 277.9,97.9 280.3,97.7 285.8,96.3 286.8,96.6 289.0,97.7 290.5,97.9 299.8,98.0 304.2,97.7 312.6,98.0" fill="none" stroke="#000" stroke-width="0.45" stroke-opacity="0.15"/>
<polyline points="248.0,95.7 248.8,96.3 249.3,96.5 249.8,95.6 250.3,92.0 250.9,83.9 251.2,82.6 252.4,94.8 252.7,96.6 253.0,97.3 253.3,97.5 255.4,97.2 258.2,96.0 259.0,95.8 259.8,96.1 262.1,97.6 264.3,97.9 301.1,98.0 302.7,97.8 305.3,97.0 308.4,97.9 312.6,98.0" fill="none" stroke="#000" stroke-width="0.45" stroke-opacity="0.15"/>
<polyline points="248.0,95.7 248.5,95.8 249.0,94.9 249.9,88.6 250.3,87.8 250.6,88.8 251.7,96.5 252.2,97.4 252.8,97.7 256.9,97.9 264.0,97.9 265.4,97.7 267.7,96.7 268.7,96.6 271.3,97.0 274.6,97.0 279.0,97.6 284.0,97.3 291.0,97.9 312.6,98.0" fill="none" stroke="#000" stroke-width="0.45" stroke-opacity="0.15"/>
<polyline points="248.0,95.7 249.0,96.3 249.5,95.4 250.6,85.7 250.7,85.7 250.9,86.7 251.9,96.2 252.2,97.2 252.8,97.7 259.8,98.0 287.7,97.9 290.5,97.7 295.0,96.9 299.2,95.6 300.5,95.4 301.9,95.7 304.7,97.1 306.3,97.7 308.4,97.9 312.6,98.0" fill="none" stroke="#000" stroke-width="0.45" stroke-opacity="0.15"/>
<polyline points="248.0,95.7 249.1,96.5 249.5,96.6 249.8,96.4 250.3,94.9 250.9,91.7 251.2,91.2 252.5,97.0 253.0,97.6 253.7,97.8 259.0,98.0 274.0,98.0 275.5,97.8 278.2,96.9 281.1,97.8 282.7,98.0 288.7,97.9 294.5,97.3 301.8,97.9 306.3,97.9 310.3,97.6 312.6,97.7" fill="none" stroke="#000" stroke-width="0.45" stroke-opacity="0.15"/>
<polyline points="248.0,95.7 248.6,96.2 249.1,96.4 249.5,96.0 250.3,94.4 250.6,94.8 251.6,97.3 252.2,97.6 254.3,97.8 256.6,97.7 260.4,96.8 263.8,96.7 264.8,96.9 267.1,97.8 268.8,98.0 305.3,98.0 306.8,97.9 309.2,97.4 312.6,97.9" fill="none" stroke="#000" stroke-width="0.45" stroke-opacity="0.15"/>
<polyline points="248.0,95.7 248.8,96.3 249.3,96.4 250.7,95.6 252.5,97.5 255.6,97.9 257.7,97.8 260.4,97.5 263.5,97.6 267.4,96.5 271.6,97.6 274.6,97.9 312.6,98.0" fill="none" stroke="#000" stroke-width="0.45" stroke-opacity="0.15"/>
<polyline points="248.0,95.7 248.5,96.0 249.0,96.0 249.9,94.4 250.3,94.2 250.6,94.5 251.6,96.9 252.0,97.4 253.2,97.7 255.9,97.9 263.0,97.8 268.8,96.5 272.7,96.1 274.3,96.4 277.6,97.6 279.2,97.8 285.5,97.2 292.7,97.9 312.6,98.0" fill="none" stroke="#000" stroke-width="0.45" stroke-opacity="0.15"/>
<polyline points="248.0,95.7 249.0,96.5 249.6,96.7 249.9,96.5 250.6,95.5 251.4,97.0 251.9,97.5 256.6,97.9 278.2,98.0 284.3,97.4 289.7,97.9 300.5,98.0 303.6,97.8 309.0,96.9 312.6,97.4" fill="none" stroke="#000" stroke-width="0.45" stroke-opacity="0.15"/>
<polyline points="248.0,95.7 248.6,96.1 249.0,96.0 250.1,93.4 251.4,97.2 252.0,97.5 254.1,97.8 259.6,97.9 263.3,97.2 265.9,97.4 269.2,97.1 276.3,97.9 291.9,98.0 294.7,97.8 299.5,97.0 305.3,97.9 312.6,98.0" fill="none" stroke="#000" stroke-width="0.45" stroke-opacity="0.15"/>
<polyline points="248.0,95.6 248.8,96.1 249.3,96.0 250.4,94.5 250.9,94.2 252.2,96.1 252.7,96.5 255.3,96.7 259.5,97.7 262.2,97.9 280.5,98.0 281.9,97.8 284.7,96.8 287.4,97.8 288.9,97.9 297.4,98.0 301.0,97.4 304.4,98.0 312.6,98.0" fill="none" stroke="#000" stroke-width="0.45" stroke-opacity="0.15"/>
<polyline points="248.0,95.7 249.3,96.7 249.9,96.8 250.3,96.0 250.9,92.0 251.7,97.0 252.0,97.5 253.5,97.7 259.0,98.0 271.6,97.9 274.3,97.7 278.5,97.0 280.3,96.8 287.7,97.9 297.4,98.0 299.5,97.8 302.9,96.8 306.9,97.9 312.6,98.0" fill="none" stroke="#000" stroke-width="0.45" stroke-opacity="0.15"/>
<polyline points="248.0,95.7 249.3,96.7 249.9,96.7 250.3,95.8 250.9,91.0 251.1,90.8 251.9,96.6 252.2,97.4 253.0,97.7 257.7,97.9 266.4,97.9 268.2,97.7 270.8,96.8 271.9,96.6 272.9,96.8 275.6,97.7 277.7,97.9 280.9,97.8 284.2,96.8 286.9,97.7 288.5,98.0 312.6,98.0" fill="none" stroke="#000" stroke-width="0.45" stroke-opacity="0.15"/>
<polyline points="248.0,95.7 249.1,96.4 250.4,95.4 250.7,95.6 251.7,97.2 252.2,97.5 255.9,97.9 270.6,97.9 272.5,97.5 275.5,96.3 276.6,96.1 277.7,96.4 280.6,97.6 282.7,97.9 295.0,98.0 301.5,97.7 312.6,98.0" fill="none" stroke="#000" stroke-width="0.45" stroke-opacity="0.15"/>
<polyline points="248.0,95.7 249.5,96.6 249.8,96.5 250.7,95.6 251.7,97.2 252.2,97.5 256.4,97.9 280.0,98.0 284.8,97.3 288.9,97.3 292.6,97.8 294.5,98.0 303.6,98.0 309.9,97.5 312.6,97.6" fill="none" stroke="#000" stroke-width="0.45" stroke-opacity="0.15"/>
<polyline points="248.0,95.7 248.8,96.3 249.3,96.3 250.3,94.9 250.6,94.8 251.7,97.0 252.2,97.5 256.1,97.9 260.4,97.9 265.9,97.3 280.0,98.0 301.0,98.0 303.6,97.8 307.9,96.9 312.6,97.8" fill="none" stroke="#000" stroke-width="0.45" stroke-opacity="0.15"/>
<polyline points="248.0,95.7 249.1,96.5 249.5,95.8 250.3,86.9 251.1,96.4 251.4,97.3 252.0,97.5 254.6,97.8 258.7,97.9 263.8,97.9 267.2,97.6 271.4,98.0 289.3,98.0 291.4,97.9 294.5,97.3 297.9,97.8 301.9,97.6 306.8,97.9 312.6,98.0" fill="none" stroke="#000" stroke-width="0.45" stroke-opacity="0.15"/>
<polyline points="248.0,95.7 249.0,96.5 249.5,96.6 249.8,95.1 250.6,77.2 251.2,93.9 251.6,97.0 251.9,97.5 256.6,97.9 268.5,98.0 274.6,97.6 278.5,97.0 282.6,97.8 284.7,97.9 291.6,97.9 297.7,97.3 304.2,97.9 312.6,98.0" fill="none" stroke="#000" stroke-width="0.45" stroke-opacity="0.15"/>
<polyline points="248.0,95.7 248.3,95.9 248.6,95.9 249.1,94.2 250.3,76.0 250.6,74.0 250.9,77.2 251.9,94.3 252.2,96.4 252.5,97.2 252.8,97.4 255.8,97.3 258.8,97.8 261.1,98.0 286.6,98.0 288.5,97.9 291.1,97.3 294.7,97.7 299.2,97.0 304.7,97.9 312.6,98.0" fill="none" stroke="#000" stroke-width="0.45" stroke-opacity="0.15"/>
<polyline points="248.0,95.7 248.5,96.0 248.8,95.9 249.3,94.4 250.4,82.5 250.6,81.7 250.7,81.7 252.0,95.1 252.5,97.1 253.2,97.7 258.7,97.9 278.2,98.0 280.0,97.8 282.6,96.9 285.8,97.7 289.0,96.8 291.8,97.7 293.2,97.9 300.3,97.9 305.5,97.3 309.9,97.9 312.6,98.0" fill="none" stroke="#000" stroke-width="0.45" stroke-opacity="0.15"/>
<polyline points="248.0,95.7 249.5,96.6 249.9,96.0 250.3,94.2 250.9,87.4 251.2,85.9 252.4,96.1 252.7,97.2 253.3,97.7 257.0,97.9 262.5,97.9 268.3,96.9 272.4,97.7 274.5,97.9 285.8,98.0 290.0,97.7 293.4,97.9 296.8,98.0 298.7,97.7 301.6,96.6 302.4,96.8 304.2,97.6 305.5,97.9 312.6,98.0" fill="none" stroke="#000" stroke-width="0.45" stroke-opacity="0.15"/>
<polyline points="248.0,95.7 248.5,96.0 249.0,95.9 250.1,93.9 250.4,93.7 250.7,94.0 252.0,97.1 252.7,97.6 253.8,97.7 256.7,97.7 262.2,97.1 268.7,97.9 276.4,98.0 278.0,97.7 280.0,96.7 280.6,96.6 283.5,97.5 286.8,97.5 291.3,97.9 312.6,98.0" fill="none" stroke="#000" stroke-width="0.45" stroke-opacity="0.15"/>
<polyline points="248.0,95.7 248.6,96.1 249.0,96.0 249.5,95.0 249.9,91.8 250.7,83.6 251.1,82.1 251.2,82.2 251.6,84.2 252.7,95.3 253.2,97.1 253.5,97.5 254.0,97.8 263.2,97.9 270.9,97.5 276.9,97.9 281.1,97.9 285.1,97.5 288.4,96.4 289.2,96.6 291.3,97.7 292.9,97.9 312.6,98.0" fill="none" stroke="#000" stroke-width="0.45" stroke-opacity="0.15"/>
<polyline points="248.0,95.7 249.8,96.8 250.1,96.6 250.7,95.6 251.4,97.1 251.7,97.5 255.1,97.8 258.7,97.7 263.0,96.8 264.6,96.6 266.2,96.8 270.4,97.7 273.4,97.9 287.1,97.9 292.1,96.9 296.5,97.0 299.5,97.8 301.1,97.9 312.6,98.0" fill="none" stroke="#000" stroke-width="0.45" stroke-opacity="0.15"/>
<polyline points="248.0,95.7 249.1,96.6 250.1,97.0 250.4,96.7 250.9,95.3 251.1,95.3 251.9,97.5 255.9,97.9 263.8,97.9 269.3,97.4 273.8,97.9 276.7,98.0 278.2,97.8 280.8,97.3 283.9,97.7 286.6,97.1 289.5,97.8 291.0,98.0 312.6,98.0" fill="none" stroke="#000" stroke-width="0.45" stroke-opacity="0.15"/>
<polyline points="248.0,95.7 249.5,96.7 249.8,96.8 249.9,96.6 250.3,94.5 250.7,87.5 250.9,87.6 251.6,96.4 251.9,97.4 252.4,97.6 256.4,97.8 262.9,97.0 269.2,97.9 275.1,98.0 277.2,97.8 281.1,97.0 284.7,97.8 286.6,97.9 288.5,97.7 292.1,97.0 293.5,96.9 299.8,97.9 312.6,98.0" fill="none" stroke="#000" stroke-width="0.45" stroke-opacity="0.15"/>
<polyline points="248.0,95.6 248.3,95.8 248.6,95.5 249.1,93.8 250.3,82.7 250.6,81.1 250.7,81.2 251.1,83.2 252.2,95.0 252.7,97.0 253.0,97.5 253.5,97.7 259.3,98.0 278.4,97.9 280.5,97.6 283.4,96.3 284.7,96.0 285.8,96.2 289.5,97.4 292.7,97.9 298.2,97.9 302.7,97.2 307.3,97.9 312.6,98.0" fill="none" stroke="#000" stroke-width="0.45" stroke-opacity="0.15"/>
<polyline points="248.0,95.7 249.3,96.6 249.6,96.2 250.4,85.4 251.2,96.3 251.4,97.1 251.9,97.5 255.1,97.8 258.3,97.2 261.1,97.8 262.7,98.0 291.1,98.0 293.5,97.8 296.8,97.0 300.6,97.7 305.3,97.0 310.2,97.8 312.6,98.0" fill="none" stroke="#000" stroke-width="0.45" stroke-opacity="0.15"/>
<polyline points="248.0,95.7 249.5,96.6 249.8,96.5 250.4,95.6 250.7,95.5 251.6,96.9 252.2,97.4 253.7,97.3 257.0,96.7 258.5,96.6 263.7,97.7 266.1,97.9 271.7,97.5 276.7,98.0 287.6,98.0 293.7,97.5 299.4,98.0 312.6,98.0" fill="none" stroke="#000" stroke-width="0.45" stroke-opacity="0.15"/>
<polyline points="248.0,98.0 249.2,98.0 249.5,97.8 249.7,95.9 250.4,41.7 251.0,92.3 251.3,97.3 251.5,97.9 312.6,98.0" fill="none" stroke="#999" stroke-width="0.6" stroke-opacity="0.8"/>
<polyline points="248.0,98.0 262.7,98.0 264.1,97.7 264.8,97.2 265.3,96.3 267.1,90.3 267.4,89.7 267.7,89.5 268.3,90.8 270.0,96.3 270.6,97.4 271.6,97.9 312.6,98.0" fill="none" stroke="#777" stroke-width="0.55" stroke-opacity="0.8"/>
<polyline points="324.4,98.0 338.0,97.9 343.8,97.4 346.0,96.8 348.3,96.0 356.1,92.4 357.7,91.9 359.3,91.7 359.9,91.9 360.9,92.6 363.2,95.4 364.5,96.7 365.4,97.3 366.7,97.8 369.6,98.0 389.0,98.0" fill="none" stroke="#000" stroke-width="0.45" stroke-opacity="0.3"/>
<polyline points="324.4,98.0 337.0,97.9 342.8,97.4 345.1,96.9 347.3,96.1 355.1,92.6 356.7,92.1 358.3,92.0 359.0,92.1 359.9,92.8 362.2,95.5 363.5,96.8 364.5,97.4 365.7,97.8 369.0,98.0 389.0,98.0" fill="none" stroke="#000" stroke-width="0.45" stroke-opacity="0.3"/>
<polyline points="324.4,98.0 336.4,97.9 342.2,97.4 346.7,96.1 354.1,92.8 356.1,92.3 357.7,92.2 358.3,92.4 359.0,92.8 362.5,96.7 363.5,97.3 364.8,97.7 368.0,98.0 389.0,98.0" fill="none" stroke="#000" stroke-width="0.45" stroke-opacity="0.3"/>
<polyline points="324.4,98.0 337.6,97.9 343.5,97.3 345.7,96.8 348.0,96.0 355.7,92.2 357.3,91.8 359.0,91.6 359.6,91.7 360.3,92.2 362.8,95.5 364.1,96.8 365.1,97.4 366.4,97.8 369.3,98.0 389.0,98.0" fill="none" stroke="#000" stroke-width="0.45" stroke-opacity="0.3"/>
<polyline points="324.4,98.0 336.0,97.9 341.5,97.4 346.0,96.1 353.8,92.6 355.4,92.2 357.0,92.0 357.7,92.2 358.6,92.9 360.9,95.6 362.2,96.8 363.2,97.4 364.5,97.8 367.7,98.0 389.0,98.0" fill="none" stroke="#000" stroke-width="0.45" stroke-opacity="0.3"/>
<polyline points="324.4,98.0 336.4,97.9 341.8,97.4 346.0,96.5 353.8,93.6 357.0,93.0 357.7,93.1 358.6,93.6 362.2,96.9 363.2,97.4 364.5,97.8 367.7,98.0 389.0,98.0" fill="none" stroke="#000" stroke-width="0.45" stroke-opacity="0.3"/>
<polyline points="324.4,98.0 338.6,97.9 344.7,97.7 349.3,97.1 357.0,95.5 360.6,95.2 361.9,95.5 365.4,97.3 367.7,97.9 389.0,98.0" fill="none" stroke="#000" stroke-width="0.45" stroke-opacity="0.3"/>
<polyline points="324.4,98.0 336.4,97.9 342.2,97.6 346.7,96.7 354.1,94.4 357.7,94.0 359.0,94.4 362.8,97.2 365.1,97.8 389.0,98.0" fill="none" stroke="#000" stroke-width="0.45" stroke-opacity="0.3"/>
<polyline points="324.4,98.0 336.7,97.9 342.5,97.7 347.0,97.0 354.4,95.3 358.0,94.9 359.3,95.2 363.2,97.4 365.4,97.9 389.0,98.0" fill="none" stroke="#000" stroke-width="0.45" stroke-opacity="0.3"/>
<polyline points="324.4,98.0 338.6,97.9 344.4,97.4 348.9,96.2 357.0,92.5 358.6,92.1 360.3,91.9 360.9,92.1 361.9,92.8 364.1,95.5 365.4,96.8 366.4,97.4 367.7,97.8 370.6,98.0 389.0,98.0" fill="none" stroke="#000" stroke-width="0.45" stroke-opacity="0.3"/>
<polyline points="324.4,98.0 337.0,97.9 342.8,97.5 347.3,96.6 354.8,94.2 358.3,93.8 359.6,94.2 363.2,97.0 364.5,97.6 365.7,97.8 389.0,98.0" fill="none" stroke="#000" stroke-width="0.45" stroke-opacity="0.3"/>
<polyline points="324.4,98.0 337.6,97.9 343.5,97.7 348.0,97.0 355.7,95.3 359.0,95.0 360.6,95.4 364.1,97.4 366.4,97.9 389.0,98.0" fill="none" stroke="#000" stroke-width="0.45" stroke-opacity="0.3"/>
<polyline points="324.4,98.0 336.0,97.9 341.5,97.3 345.7,96.0 353.5,92.3 355.1,91.8 356.7,91.6 357.3,91.7 358.3,92.4 360.9,95.7 361.9,96.7 362.8,97.3 364.1,97.7 367.4,98.0 389.0,98.0" fill="none" stroke="#000" stroke-width="0.45" stroke-opacity="0.3"/>
<polyline points="324.4,98.0 336.7,97.9 342.5,97.5 347.0,96.4 354.4,93.7 356.4,93.3 358.0,93.2 359.3,93.7 362.8,96.9 363.8,97.4 365.1,97.8 368.3,98.0 389.0,98.0" fill="none" stroke="#000" stroke-width="0.45" stroke-opacity="0.3"/>
<polyline points="324.4,98.0 338.6,97.9 342.2,97.7 344.7,97.3 347.0,96.8 349.3,95.9 357.0,92.0 358.6,91.5 360.3,91.3 360.9,91.4 361.9,92.1 365.4,96.5 366.4,97.2 367.7,97.7 370.6,98.0 389.0,98.0" fill="none" stroke="#000" stroke-width="0.45" stroke-opacity="0.3"/>
<polyline points="324.4,98.0 337.0,97.9 342.8,97.6 347.3,96.9 355.1,94.7 358.6,94.3 359.9,94.7 363.5,97.2 365.7,97.8 369.0,98.0 389.0,98.0" fill="none" stroke="#000" stroke-width="0.45" stroke-opacity="0.3"/>
<polyline points="324.4,98.0 336.7,97.9 342.5,97.3 346.7,96.0 354.4,92.2 356.1,91.7 357.7,91.5 358.3,91.6 359.3,92.3 362.8,96.6 363.8,97.3 365.1,97.7 368.3,98.0 389.0,98.0" fill="none" stroke="#000" stroke-width="0.45" stroke-opacity="0.3"/>
<polyline points="324.4,98.0 338.6,97.9 344.4,97.6 348.9,96.9 357.0,94.7 360.3,94.4 361.9,94.9 365.4,97.3 367.7,97.9 389.0,98.0" fill="none" stroke="#000" stroke-width="0.45" stroke-opacity="0.3"/>
<polyline points="324.4,98.0 338.6,97.9 344.4,97.6 348.9,96.7 356.7,94.2 359.9,93.8 360.6,93.8 361.5,94.3 365.1,97.1 367.4,97.8 370.3,98.0 389.0,98.0" fill="none" stroke="#000" stroke-width="0.45" stroke-opacity="0.3"/>
<polyline points="324.4,98.0 337.0,97.9 342.8,97.6 347.3,96.9 355.1,94.9 358.6,94.5 359.9,94.8 363.5,97.2 365.7,97.8 389.0,98.0" fill="none" stroke="#000" stroke-width="0.45" stroke-opacity="0.3"/>
<polyline points="324.4,98.0 338.6,97.9 344.4,97.3 346.7,96.8 348.9,96.0 357.0,91.9 358.6,91.4 360.3,91.2 360.9,91.4 361.5,91.9 365.1,96.4 366.1,97.2 367.4,97.7 370.6,98.0 389.0,98.0" fill="none" stroke="#000" stroke-width="0.45" stroke-opacity="0.3"/>
<polyline points="324.4,98.0 336.4,97.9 342.2,97.4 346.4,96.3 354.1,93.2 357.3,92.7 358.0,92.7 359.0,93.3 362.5,96.9 363.5,97.4 364.8,97.8 368.0,98.0 389.0,98.0" fill="none" stroke="#000" stroke-width="0.45" stroke-opacity="0.3"/>
<polyline points="324.4,98.0 336.4,97.9 341.8,97.4 344.1,96.8 346.4,96.0 354.1,92.3 355.7,91.9 357.3,91.7 358.0,91.8 359.0,92.5 361.5,95.7 362.5,96.7 363.5,97.3 364.8,97.8 368.0,98.0 389.0,98.0" fill="none" stroke="#000" stroke-width="0.45" stroke-opacity="0.3"/>
<polyline points="324.4,98.0 336.0,97.9 341.5,97.6 345.7,97.0 353.5,95.1 356.7,94.7 358.3,95.1 361.9,97.3 364.1,97.9 389.0,98.0" fill="none" stroke="#000" stroke-width="0.45" stroke-opacity="0.3"/>
<polyline points="324.4,98.0 338.0,97.9 343.8,97.6 348.3,96.8 356.4,94.3 359.6,93.9 360.9,94.3 364.8,97.2 367.0,97.8 389.0,98.0" fill="none" stroke="#000" stroke-width="0.45" stroke-opacity="0.3"/>
<polyline points="324.4,98.0 338.6,97.9 344.4,97.4 346.7,96.9 348.9,96.1 357.0,92.3 358.6,91.9 360.3,91.7 360.9,91.9 361.9,92.6 364.1,95.4 365.4,96.7 366.4,97.3 367.7,97.8 370.6,98.0 389.0,98.0" fill="none" stroke="#000" stroke-width="0.45" stroke-opacity="0.3"/>
<polyline points="324.4,98.0 338.0,97.9 343.8,97.7 348.3,97.0 356.1,95.0 359.6,94.6 360.9,95.0 364.5,97.2 366.7,97.8 389.0,98.0" fill="none" stroke="#000" stroke-width="0.45" stroke-opacity="0.3"/>
<polyline points="324.4,98.0 338.0,97.9 343.8,97.3 346.0,96.8 348.3,96.0 356.1,92.2 357.7,91.7 359.3,91.5 359.9,91.5 360.9,92.2 364.5,96.6 365.4,97.2 366.7,97.7 369.9,98.0 389.0,98.0" fill="none" stroke="#000" stroke-width="0.45" stroke-opacity="0.3"/>
<polyline points="324.4,98.0 337.0,97.9 342.8,97.7 347.3,97.0 355.1,95.2 358.3,94.8 359.9,95.2 363.5,97.3 365.7,97.9 389.0,98.0" fill="none" stroke="#000" stroke-width="0.45" stroke-opacity="0.3"/>
<polyline points="324.4,98.0 336.4,97.9 342.2,97.6 346.7,96.7 354.1,94.4 357.7,93.9 359.0,94.4 362.5,97.1 364.8,97.8 368.0,98.0 389.0,98.0" fill="none" stroke="#000" stroke-width="0.45" stroke-opacity="0.3"/>
<polyline points="324.4,98.0 338.0,97.9 343.8,97.6 348.3,96.9 356.1,94.8 359.6,94.4 360.9,94.8 364.5,97.2 366.7,97.8 369.9,98.0 389.0,98.0" fill="none" stroke="#000" stroke-width="0.45" stroke-opacity="0.3"/>
<polyline points="324.4,98.0 336.4,97.9 341.8,97.6 346.4,96.8 354.1,94.6 357.3,94.2 358.0,94.3 359.0,94.7 362.5,97.2 364.8,97.8 389.0,98.0" fill="none" stroke="#000" stroke-width="0.45" stroke-opacity="0.3"/>
<polyline points="324.4,98.0 338.0,97.9 343.8,97.4 348.3,96.1 356.1,92.6 357.7,92.2 359.3,92.0 359.9,92.2 360.9,92.8 363.2,95.5 364.5,96.8 365.4,97.4 366.7,97.8 369.6,98.0 389.0,98.0" fill="none" stroke="#000" stroke-width="0.45" stroke-opacity="0.3"/>
<polyline points="324.4,98.0 336.7,97.9 342.5,97.5 347.0,96.3 354.8,93.1 358.0,92.6 358.6,92.6 359.6,93.2 363.2,96.8 364.1,97.4 365.4,97.8 368.7,98.0 389.0,98.0" fill="none" stroke="#000" stroke-width="0.45" stroke-opacity="0.3"/>
<polyline points="324.4,98.0 338.6,97.9 344.4,97.5 348.9,96.4 357.0,93.3 360.3,92.8 360.9,93.0 361.9,93.6 365.1,96.8 366.1,97.3 367.4,97.8 370.6,98.0 389.0,98.0" fill="none" stroke="#000" stroke-width="0.45" stroke-opacity="0.3"/>
<polyline points="324.4,98.0 336.4,97.9 342.2,97.6 346.7,96.7 354.1,94.4 357.7,94.0 359.0,94.4 362.5,97.1 363.8,97.6 365.1,97.9 389.0,98.0" fill="none" stroke="#000" stroke-width="0.45" stroke-opacity="0.3"/>
<polyline points="324.4,98.0 338.6,97.9 344.7,97.4 349.3,96.3 357.0,93.1 360.3,92.5 360.9,92.6 361.9,93.2 365.4,96.8 366.4,97.4 367.7,97.8 370.6,98.0 389.0,98.0" fill="none" stroke="#000" stroke-width="0.45" stroke-opacity="0.3"/>
<polyline points="324.4,98.0 336.7,97.9 342.2,97.4 346.7,96.3 354.4,93.2 357.7,92.6 358.3,92.7 359.3,93.3 362.8,96.9 363.8,97.4 365.1,97.8 368.3,98.0 389.0,98.0" fill="none" stroke="#000" stroke-width="0.45" stroke-opacity="0.3"/>
<polyline points="324.4,98.0 336.0,97.9 341.5,97.3 343.8,96.7 346.0,95.9 353.8,91.9 355.4,91.5 357.0,91.3 357.7,91.4 358.6,92.2 360.9,95.3 362.2,96.7 363.2,97.3 364.5,97.8 367.7,98.0 389.0,98.0" fill="none" stroke="#000" stroke-width="0.45" stroke-opacity="0.3"/>
<polyline points="324.4,98.0 337.0,97.9 342.8,97.5 347.3,96.5 355.1,93.6 358.3,93.1 359.0,93.1 359.9,93.7 363.5,97.0 364.5,97.5 365.7,97.8 369.0,98.0 389.0,98.0" fill="none" stroke="#000" stroke-width="0.45" stroke-opacity="0.3"/>
<polyline points="324.4,98.0 337.3,97.9 343.1,97.7 347.7,97.1 355.4,95.3 358.6,95.0 360.3,95.3 363.8,97.3 366.1,97.9 389.0,98.0" fill="none" stroke="#000" stroke-width="0.45" stroke-opacity="0.3"/>
<polyline points="324.4,98.0 337.6,97.9 343.5,97.6 348.0,96.8 355.7,94.4 359.0,94.0 359.6,94.1 360.6,94.5 364.1,97.2 366.4,97.8 389.0,98.0" fill="none" stroke="#000" stroke-width="0.45" stroke-opacity="0.3"/>
<polyline points="324.4,98.0 336.7,97.9 342.2,97.4 344.4,96.8 346.7,96.1 354.4,92.6 356.1,92.1 357.7,92.0 358.3,92.1 359.3,92.8 361.5,95.6 362.8,96.8 363.8,97.4 365.1,97.8 368.3,98.0 389.0,98.0" fill="none" stroke="#000" stroke-width="0.45" stroke-opacity="0.3"/>
<polyline points="324.4,98.0 336.0,97.9 341.5,97.6 346.0,96.7 353.8,94.4 357.0,94.0 358.3,94.4 362.2,97.2 364.5,97.8 389.0,98.0" fill="none" stroke="#000" stroke-width="0.45" stroke-opacity="0.3"/>
<polyline points="324.4,98.0 338.3,97.9 344.1,97.6 348.6,96.8 356.4,94.6 359.6,94.2 360.3,94.2 361.2,94.7 364.8,97.2 367.0,97.8 389.0,98.0" fill="none" stroke="#000" stroke-width="0.45" stroke-opacity="0.3"/>
<polyline points="324.4,98.0 336.7,97.9 342.2,97.5 346.7,96.4 354.4,93.5 357.7,93.0 358.3,93.1 359.3,93.6 362.8,96.9 363.8,97.4 365.1,97.8 368.3,98.0 389.0,98.0" fill="none" stroke="#000" stroke-width="0.45" stroke-opacity="0.3"/>
<polyline points="324.4,98.0 336.4,97.9 341.8,97.3 344.1,96.8 346.4,96.0 354.1,92.3 355.7,91.8 357.3,91.6 358.0,91.7 359.0,92.5 361.2,95.4 362.5,96.7 363.5,97.3 364.8,97.8 368.0,98.0 389.0,98.0" fill="none" stroke="#000" stroke-width="0.45" stroke-opacity="0.3"/>
<polyline points="324.4,98.0 338.9,97.9 344.7,97.7 349.6,97.1 357.3,95.3 360.6,95.0 362.2,95.4 365.7,97.4 368.0,97.9 389.0,98.0" fill="none" stroke="#000" stroke-width="0.45" stroke-opacity="0.3"/>
<polyline points="324.4,98.0 337.0,97.9 342.8,97.4 347.3,96.2 355.1,92.8 357.0,92.3 358.6,92.2 359.3,92.4 359.9,92.8 363.5,96.7 364.5,97.3 365.7,97.7 369.0,98.0 389.0,98.0" fill="none" stroke="#000" stroke-width="0.45" stroke-opacity="0.3"/>
<polyline points="324.4,98.0 337.0,97.9 342.8,97.3 345.1,96.7 347.3,95.9 354.8,92.2 356.7,91.6 358.3,91.5 359.0,91.7 359.6,92.2 363.2,96.5 364.1,97.2 365.4,97.7 368.7,98.0 389.0,98.0" fill="none" stroke="#000" stroke-width="0.45" stroke-opacity="0.3"/>
<polyline points="324.4,98.0 337.3,97.9 343.1,97.6 347.7,96.9 355.4,94.8 358.6,94.4 360.3,94.9 363.8,97.3 366.1,97.9 389.0,98.0" fill="none" stroke="#000" stroke-width="0.45" stroke-opacity="0.3"/>
<polyline points="324.4,98.0 346.0,98.0 348.4,97.9 350.2,97.6 351.9,96.9 353.3,95.9 354.7,94.4 358.3,89.5 359.3,88.7 360.3,88.4 360.9,88.7 361.5,89.4 364.0,94.4 365.0,96.1 366.0,97.1 367.0,97.6 369.8,98.0 389.0,98.0" fill="none" stroke="#777" stroke-width="0.55" stroke-opacity="0.8"/>
<polyline points="324.4,98.0 341.0,97.9 344.0,97.8 346.2,97.4 348.2,96.7 350.2,95.7 356.5,90.9 357.9,90.3 359.1,90.1 359.7,90.3 360.5,91.0 363.0,94.8 364.2,96.4 365.2,97.2 366.4,97.7 369.4,98.0 389.0,98.0" fill="none" stroke="#999" stroke-width="0.55" stroke-opacity="0.8"/>
<polyline points="171.6,209.1 189.7,209.0 198.4,208.6 205.2,207.7 216.8,205.3 222.3,204.8 223.3,205.2 225.9,207.9 227.5,208.8 229.4,209.0 236.2,209.1" fill="none" stroke="#000" stroke-width="0.45" stroke-opacity="0.3"/>
<polyline points="171.6,209.1 189.0,209.0 197.8,208.6 204.5,207.7 216.2,205.2 221.3,204.8 222.3,205.1 225.2,208.0 226.8,208.8 228.8,209.1 236.2,209.1" fill="none" stroke="#000" stroke-width="0.45" stroke-opacity="0.3"/>
<polyline points="171.6,209.1 190.3,209.0 199.1,208.7 205.8,207.9 217.8,205.8 223.0,205.3 223.6,205.4 224.2,205.7 226.8,208.0 228.4,208.8 230.4,209.1 236.2,209.1" fill="none" stroke="#000" stroke-width="0.45" stroke-opacity="0.3"/>
<polyline points="171.6,209.1 189.4,209.0 198.1,208.5 204.9,207.5 216.8,204.6 222.0,204.1 223.0,204.4 225.9,207.8 227.5,208.8 229.4,209.0 236.2,209.1" fill="none" stroke="#000" stroke-width="0.45" stroke-opacity="0.3"/>
<polyline points="171.6,209.1 190.0,209.0 198.7,208.7 205.5,207.9 217.5,205.7 222.6,205.3 223.3,205.4 223.9,205.8 226.5,208.1 228.1,208.8 230.1,209.1 236.2,209.1" fill="none" stroke="#000" stroke-width="0.45" stroke-opacity="0.3"/>
<polyline points="171.6,209.1 191.0,209.0 199.7,208.8 206.5,208.3 218.8,206.9 223.9,206.7 224.9,206.9 227.5,208.4 229.1,208.9 236.2,209.1" fill="none" stroke="#000" stroke-width="0.45" stroke-opacity="0.3"/>
<polyline points="171.6,209.1 190.3,209.0 199.1,208.8 205.8,208.4 217.8,207.0 223.0,206.7 224.2,207.0 226.8,208.4 228.4,208.9 236.2,209.1" fill="none" stroke="#000" stroke-width="0.45" stroke-opacity="0.3"/>
<polyline points="171.6,209.1 189.7,209.0 198.4,208.8 205.2,208.3 217.1,206.7 222.3,206.5 223.6,206.7 226.2,208.4 227.8,208.9 236.2,209.1" fill="none" stroke="#000" stroke-width="0.45" stroke-opacity="0.3"/>
<polyline points="171.6,209.1 189.0,209.0 197.8,208.6 204.5,207.6 216.5,204.8 221.7,204.3 222.6,204.6 225.5,207.8 227.2,208.8 229.1,209.0 236.2,209.1" fill="none" stroke="#000" stroke-width="0.45" stroke-opacity="0.3"/>
<polyline points="171.6,209.1 190.3,209.0 199.1,208.6 205.8,207.6 217.8,204.8 223.0,204.3 223.6,204.3 224.2,204.7 226.8,207.7 228.4,208.7 230.4,209.0 236.2,209.1" fill="none" stroke="#000" stroke-width="0.45" stroke-opacity="0.3"/>
<polyline points="171.6,209.1 188.7,209.0 197.1,208.7 203.9,207.9 215.5,205.9 221.0,205.5 222.0,205.8 224.6,208.0 226.2,208.8 228.4,209.1 236.2,209.1" fill="none" stroke="#000" stroke-width="0.45" stroke-opacity="0.3"/>
<polyline points="171.6,209.1 188.7,209.0 197.1,208.6 203.9,207.8 215.5,205.5 220.7,205.1 221.3,205.2 222.0,205.5 224.6,208.0 226.2,208.8 228.4,209.1 236.2,209.1" fill="none" stroke="#000" stroke-width="0.45" stroke-opacity="0.3"/>
<polyline points="171.6,209.1 198.1,208.9 204.9,208.5 216.8,207.4 222.0,207.2 223.0,207.4 225.5,208.5 227.2,208.9 236.2,209.1" fill="none" stroke="#000" stroke-width="0.45" stroke-opacity="0.3"/>
<polyline points="171.6,209.1 189.7,209.0 198.4,208.6 205.2,207.7 217.1,205.0 222.3,204.6 223.3,204.9 226.2,207.9 227.8,208.8 229.7,209.0 236.2,209.1" fill="none" stroke="#000" stroke-width="0.45" stroke-opacity="0.3"/>
<polyline points="171.6,209.1 189.7,209.0 198.4,208.5 205.2,207.5 217.1,204.5 219.7,204.1 222.3,203.9 223.3,204.3 225.9,207.5 227.5,208.7 229.4,209.0 236.2,209.1" fill="none" stroke="#000" stroke-width="0.45" stroke-opacity="0.3"/>
<polyline points="171.6,209.1 188.7,209.0 197.1,208.8 203.6,208.4 215.5,207.0 220.7,206.8 221.7,207.0 224.6,208.5 226.2,208.9 236.2,209.1" fill="none" stroke="#000" stroke-width="0.45" stroke-opacity="0.3"/>
<polyline points="171.6,209.1 188.1,209.0 196.5,208.7 202.9,207.9 214.9,205.8 220.0,205.4 220.7,205.5 221.3,205.9 223.9,208.2 225.5,208.9 227.8,209.1 236.2,209.1" fill="none" stroke="#000" stroke-width="0.45" stroke-opacity="0.3"/>
<polyline points="171.6,209.1 189.0,209.0 197.8,208.7 204.5,208.0 216.5,206.0 221.7,205.6 222.6,205.9 225.5,208.2 227.2,208.9 229.1,209.1 236.2,209.1" fill="none" stroke="#000" stroke-width="0.45" stroke-opacity="0.3"/>
<polyline points="171.6,209.1 188.7,209.0 197.4,208.5 203.9,207.6 215.9,204.7 221.0,204.2 222.0,204.6 224.9,207.9 226.5,208.8 228.8,209.1 236.2,209.1" fill="none" stroke="#000" stroke-width="0.45" stroke-opacity="0.3"/>
<polyline points="171.6,209.1 188.1,209.0 196.5,208.5 203.3,207.4 214.9,204.4 217.8,203.9 220.4,203.8 221.0,204.0 221.7,204.6 224.2,207.9 225.9,208.8 228.1,209.1 236.2,209.1" fill="none" stroke="#000" stroke-width="0.45" stroke-opacity="0.3"/>
<polyline points="171.6,209.1 189.7,209.0 198.4,208.7 205.2,207.9 217.1,205.6 222.3,205.2 223.3,205.6 225.9,207.9 227.5,208.8 229.4,209.0 236.2,209.1" fill="none" stroke="#000" stroke-width="0.45" stroke-opacity="0.3"/>
<polyline points="171.6,209.1 190.3,209.0 199.1,208.8 205.8,208.3 218.1,206.7 223.3,206.4 224.2,206.7 226.8,208.3 228.4,208.9 230.4,209.1 236.2,209.1" fill="none" stroke="#000" stroke-width="0.45" stroke-opacity="0.3"/>
<polyline points="171.6,209.1 208.9,209.1 212.8,208.9 214.4,208.5 215.8,207.8 217.2,206.4 220.0,203.1 220.9,202.5 221.7,202.3 222.1,202.5 222.7,203.1 225.1,207.5 225.7,208.2 226.5,208.7 228.5,209.1 236.2,209.1" fill="none" stroke="#777" stroke-width="0.55" stroke-opacity="0.8"/>
<polyline points="171.6,209.1 207.5,209.1 212.2,208.9 214.0,208.6 215.6,208.0 217.2,207.0 220.9,204.1 221.9,203.6 222.9,203.4 223.9,203.9 226.7,207.5 228.3,208.6 230.3,209.0 236.2,209.1" fill="none" stroke="#999" stroke-width="0.55" stroke-opacity="0.8"/>
<polyline points="248.0,209.1 285.1,209.0 286.4,208.7 287.2,208.1 288.2,206.9 290.0,204.2 290.6,203.6 291.0,203.6 291.4,203.7 292.0,204.3 294.4,207.8 295.2,208.5 296.2,208.9 298.5,209.1 312.6,209.1" fill="none" stroke="#444" stroke-width="0.5" stroke-opacity="0.55"/>
<polyline points="248.0,209.1 290.8,209.0 292.0,208.8 293.0,208.2 295.6,205.1 296.7,204.6 297.7,205.1 300.3,208.2 301.7,208.9 303.7,209.1 312.6,209.1" fill="none" stroke="#444" stroke-width="0.5" stroke-opacity="0.55"/>
<polyline points="248.0,209.1 264.1,209.0 266.0,208.7 269.0,207.6 270.2,207.4 271.4,207.6 274.6,208.8 276.9,209.0 312.6,209.1" fill="none" stroke="#444" stroke-width="0.5" stroke-opacity="0.55"/>
<polyline points="248.0,209.1 273.0,209.0 275.3,208.8 278.9,207.7 280.3,207.5 281.7,207.7 285.3,208.8 287.6,209.0 312.6,209.1" fill="none" stroke="#444" stroke-width="0.5" stroke-opacity="0.55"/>
<polyline points="248.0,209.1 291.2,209.0 293.6,208.6 296.9,206.6 298.1,206.3 299.1,206.5 301.9,208.3 303.5,208.9 305.7,209.1 312.6,209.1" fill="none" stroke="#444" stroke-width="0.5" stroke-opacity="0.55"/>
<polyline points="248.0,209.1 286.2,209.0 289.0,208.6 293.2,207.1 294.8,206.8 296.2,207.0 299.9,208.4 302.1,208.9 312.6,209.1" fill="none" stroke="#444" stroke-width="0.5" stroke-opacity="0.55"/>
<polyline points="248.0,209.1 265.2,209.0 274.6,208.2 284.7,209.0 312.6,209.1" fill="none" stroke="#444" stroke-width="0.5" stroke-opacity="0.55"/>
<polyline points="248.0,209.1 259.9,209.0 267.4,208.2 273.2,208.9 276.1,209.1 312.6,209.1" fill="none" stroke="#444" stroke-width="0.5" stroke-opacity="0.55"/>
<polyline points="324.4,209.1 340.9,209.1 345.4,208.9 348.3,208.5 354.1,206.7 356.4,206.4 357.7,206.6 361.5,208.5 363.8,209.0 389.0,209.1" fill="none" stroke="#000" stroke-width="0.55" stroke-opacity="0.4"/>
<polyline points="324.4,209.1 341.2,209.1 346.0,208.9 349.6,208.3 355.7,206.3 358.0,206.0 359.6,206.4 363.5,208.4 365.7,208.9 389.0,209.1" fill="none" stroke="#000" stroke-width="0.55" stroke-opacity="0.4"/>
<polyline points="324.4,209.1 338.6,209.1 343.5,208.9 347.3,208.3 353.5,206.7 356.1,206.5 357.7,206.8 361.5,208.5 364.1,209.0 389.0,209.1" fill="none" stroke="#000" stroke-width="0.55" stroke-opacity="0.4"/>
<polyline points="324.4,209.1 339.3,209.1 344.1,208.8 348.0,208.1 353.8,206.1 356.4,205.7 358.3,206.1 363.2,208.4 365.7,208.9 369.6,209.1 389.0,209.1" fill="none" stroke="#000" stroke-width="0.55" stroke-opacity="0.4"/>
<polyline points="324.4,209.1 344.7,208.9 348.0,208.4 353.5,206.9 356.1,206.5 357.7,206.8 361.9,208.5 364.5,209.0 389.0,209.1" fill="none" stroke="#000" stroke-width="0.55" stroke-opacity="0.4"/>
<polyline points="324.4,209.1 344.7,209.1 348.9,208.9 351.9,208.3 357.0,206.1 359.0,205.8 360.9,206.2 365.1,208.4 367.4,208.9 370.9,209.1 389.0,209.1" fill="none" stroke="#000" stroke-width="0.55" stroke-opacity="0.4"/>
<polyline points="324.4,209.1 344.1,209.1 348.6,208.9 351.5,208.4 356.7,206.2 359.0,205.8 360.9,206.2 365.1,208.4 367.4,208.9 370.9,209.1 389.0,209.1" fill="none" stroke="#000" stroke-width="0.55" stroke-opacity="0.4"/>
<polyline points="324.4,209.1 345.4,208.9 348.6,208.4 354.1,206.8 356.1,206.6 358.0,206.9 362.8,208.5 365.7,209.0 389.0,209.1" fill="none" stroke="#000" stroke-width="0.55" stroke-opacity="0.4"/>
<polyline points="324.4,209.1 346.0,208.9 349.3,208.5 354.8,207.0 357.0,206.7 359.0,207.0 363.2,208.6 365.7,209.0 389.0,209.1" fill="none" stroke="#000" stroke-width="0.55" stroke-opacity="0.4"/>
<polyline points="324.4,209.1 337.3,209.0 342.5,208.8 346.7,208.1 353.1,206.1 356.1,205.8 358.0,206.2 362.5,208.3 365.4,208.9 389.0,209.1" fill="none" stroke="#000" stroke-width="0.55" stroke-opacity="0.4"/>
<polyline points="324.4,209.1 345.7,208.9 348.9,208.5 354.4,206.8 356.7,206.5 358.3,206.8 362.8,208.5 365.4,209.0 389.0,209.1" fill="none" stroke="#000" stroke-width="0.55" stroke-opacity="0.4"/>
<polyline points="324.4,209.1 338.9,209.1 344.1,208.9 348.0,208.3 354.8,206.6 357.3,206.3 359.0,206.6 363.2,208.5 365.7,209.0 389.0,209.1" fill="none" stroke="#000" stroke-width="0.55" stroke-opacity="0.4"/>
<polyline points="324.4,209.1 341.8,209.1 346.7,208.9 350.2,208.4 356.4,206.6 359.0,206.3 360.6,206.6 364.1,208.5 366.4,209.0 389.0,209.1" fill="none" stroke="#000" stroke-width="0.55" stroke-opacity="0.4"/>
<polyline points="324.4,209.1 343.8,209.1 348.0,208.9 350.9,208.3 355.7,206.3 358.0,205.8 359.6,206.2 363.5,208.3 366.1,208.9 389.0,209.1" fill="none" stroke="#000" stroke-width="0.55" stroke-opacity="0.4"/>
<text x="164.0" y="16.8" font-size="11" font-weight="bold" fill="#000" stroke="#000" stroke-width="0.3">B</text>
<text x="243.20000000000002" y="16.8" font-size="11" font-weight="bold" fill="#000" stroke="#000" stroke-width="0.3">C</text>
<text x="320.0" y="16.8" font-size="11" font-weight="bold" fill="#000" stroke="#000" stroke-width="0.3">D</text>
<text x="164.20000000000002" y="122.9" font-size="11" font-weight="bold" fill="#000" stroke="#000" stroke-width="0.3">E</text>
<text x="244.20000000000002" y="122.9" font-size="11" font-weight="bold" fill="#000" stroke="#000" stroke-width="0.3">F</text>
<text x="319.79999999999995" y="122.9" font-size="11" font-weight="bold" fill="#000" stroke="#000" stroke-width="0.3">G</text>
<text x="204.35" y="14.50" text-anchor="middle" font-size="8" textLength="37.9" lengthAdjust="spacingAndGlyphs" fill="#383838" stroke="#383838" stroke-width="0.15">BL Tumors</text>
<text x="203.40" y="23.50" text-anchor="middle" font-size="8" textLength="36.0" lengthAdjust="spacingAndGlyphs" fill="#383838" stroke="#383838" stroke-width="0.15">IGH n=51</text>
<text x="281.00" y="14.50" text-anchor="middle" font-size="8" textLength="36.8" lengthAdjust="spacingAndGlyphs" fill="#383838" stroke="#383838" stroke-width="0.15">BL Tumors</text>
<text x="281.30" y="23.60" text-anchor="middle" font-size="8" textLength="50.6" lengthAdjust="spacingAndGlyphs" fill="#383838" stroke="#383838" stroke-width="0.15">IGK/IGL n=51</text>
<text x="357.65" y="14.50" text-anchor="middle" font-size="8" textLength="37.7" lengthAdjust="spacingAndGlyphs" fill="#383838" stroke="#383838" stroke-width="0.15">BL Tumors</text>
<text x="357.00" y="23.50" text-anchor="middle" font-size="8" textLength="36.4" lengthAdjust="spacingAndGlyphs" fill="#383838" stroke="#383838" stroke-width="0.15">TRB n=51</text>
<text x="205.60" y="119.70" text-anchor="middle" font-size="8" textLength="54.4" lengthAdjust="spacingAndGlyphs" fill="#383838" stroke="#383838" stroke-width="0.15">Bone Marrow &amp;</text>
<text x="205.70" y="129.00" text-anchor="middle" font-size="8" textLength="56.2" lengthAdjust="spacingAndGlyphs" fill="#383838" stroke="#383838" stroke-width="0.15">PBMC Controls</text>
<text x="205.60" y="138.70" text-anchor="middle" font-size="8" textLength="36.2" lengthAdjust="spacingAndGlyphs" fill="#383838" stroke="#383838" stroke-width="0.15">IGH n=22</text>
<text x="281.65" y="119.70" text-anchor="middle" font-size="8" textLength="46.7" lengthAdjust="spacingAndGlyphs" fill="#383838" stroke="#383838" stroke-width="0.15">Bone Marrow</text>
<text x="281.65" y="129.00" text-anchor="middle" font-size="8" textLength="29.9" lengthAdjust="spacingAndGlyphs" fill="#383838" stroke="#383838" stroke-width="0.15">Controls</text>
<text x="281.65" y="138.70" text-anchor="middle" font-size="8" textLength="47.3" lengthAdjust="spacingAndGlyphs" fill="#383838" stroke="#383838" stroke-width="0.15">IGK/IGL n=8</text>
<text x="358.35" y="119.50" text-anchor="middle" font-size="8" textLength="47.1" lengthAdjust="spacingAndGlyphs" fill="#383838" stroke="#383838" stroke-width="0.15">T Cell Clones</text>
<text x="358.05" y="129.00" text-anchor="middle" font-size="8" textLength="36.5" lengthAdjust="spacingAndGlyphs" fill="#383838" stroke="#383838" stroke-width="0.15">TRB n=14</text>
<text transform="translate(274,236.2) scale(0.66,1)" text-anchor="middle" font-size="9.4" font-weight="bold" fill="#1a1a1a">Edit distance</text>
<text transform="translate(143.8,118.1) rotate(-90) scale(0.75,1)" text-anchor="middle" font-size="8.7" fill="#1a1a1a" stroke="#1a1a1a" stroke-width="0.3">Density</text>
<line x1="430.0" y1="21.5" x2="430.0" y2="178" stroke="#111" stroke-width="1.3"/>
<line x1="427.5" y1="177.0" x2="512" y2="177.0" stroke="#111" stroke-width="1.3"/>
<line x1="427.2" y1="177.00" x2="430.0" y2="177.00" stroke="#111" stroke-width="1.2"/>
<text x="423.7" y="179.60" text-anchor="end" font-size="7.4" fill="#1e1e1e" stroke="#1e1e1e" stroke-width="0.22">0.00</text>
<line x1="427.2" y1="137.70" x2="430.0" y2="137.70" stroke="#111" stroke-width="1.2"/>
<text x="423.7" y="140.30" text-anchor="end" font-size="7.4" fill="#1e1e1e" stroke="#1e1e1e" stroke-width="0.22">0.25</text>
<line x1="427.2" y1="98.40" x2="430.0" y2="98.40" stroke="#111" stroke-width="1.2"/>
<text x="423.7" y="101.00" text-anchor="end" font-size="7.4" fill="#1e1e1e" stroke="#1e1e1e" stroke-width="0.22">0.50</text>
<line x1="427.2" y1="59.10" x2="430.0" y2="59.10" stroke="#111" stroke-width="1.2"/>
<text x="423.7" y="61.70" text-anchor="end" font-size="7.4" fill="#1e1e1e" stroke="#1e1e1e" stroke-width="0.22">0.75</text>
<line x1="437.80" y1="177.0" x2="437.80" y2="180.2" stroke="#111" stroke-width="1.1"/>
<line x1="451.20" y1="177.0" x2="451.20" y2="180.2" stroke="#111" stroke-width="1.1"/>
<line x1="464.60" y1="177.0" x2="464.60" y2="180.2" stroke="#111" stroke-width="1.1"/>
<line x1="478.00" y1="177.0" x2="478.00" y2="180.2" stroke="#111" stroke-width="1.1"/>
<line x1="491.40" y1="177.0" x2="491.40" y2="180.2" stroke="#111" stroke-width="1.1"/>
<line x1="504.80" y1="177.0" x2="504.80" y2="180.2" stroke="#111" stroke-width="1.1"/>
<text transform="translate(440.60,184.5) rotate(-90)" text-anchor="end" font-size="8.0" fill="#383838" stroke="#383838" stroke-width="0.15">BL IGH</text>
<text transform="translate(454.00,184.5) rotate(-90)" text-anchor="end" font-size="8.0" fill="#383838" stroke="#383838" stroke-width="0.15">BL IGKL</text>
<text transform="translate(467.40,184.5) rotate(-90)" text-anchor="end" font-size="8.0" fill="#383838" stroke="#383838" stroke-width="0.15">BL TCRB</text>
<text transform="translate(480.80,184.5) rotate(-90)" text-anchor="end" font-size="8.0" fill="#383838" stroke="#383838" stroke-width="0.15">IGH Controls</text>
<text transform="translate(494.20,184.5) rotate(-90)" text-anchor="end" font-size="8.0" fill="#383838" stroke="#383838" stroke-width="0.15">IGKL Controls</text>
<text transform="translate(507.60,184.5) rotate(-90)" text-anchor="end" font-size="8.0" fill="#383838" stroke="#383838" stroke-width="0.15">TCRB Clones</text>
<text transform="translate(471.3,245.4) scale(0.65,1)" text-anchor="middle" font-size="9.6" fill="#1a1a1a" stroke="#1a1a1a" stroke-width="0.25">Locus</text>
<text transform="translate(404.2,97.4) rotate(-90) scale(0.70,1.08)" text-anchor="middle" font-size="7.8" font-weight="bold" fill="#1a1a1a">Clonal relatedness</text>
<text x="396.7" y="16.8" font-size="11" font-weight="bold" fill="#000" stroke="#000" stroke-width="0.3">H</text>
<circle cx="438.93" cy="84.96" r="0.55" fill="#999" fill-opacity="0.8"/>
<circle cx="441.77" cy="67.39" r="0.55" fill="#c0392b" fill-opacity="0.8"/>
<circle cx="435.07" cy="59.50" r="0.55" fill="#999" fill-opacity="0.8"/>
<circle cx="435.99" cy="37.74" r="0.55" fill="#d05060" fill-opacity="0.8"/>
<circle cx="437.03" cy="67.67" r="0.55" fill="#d05060" fill-opacity="0.8"/>
<circle cx="435.67" cy="40.71" r="0.55" fill="#c0392b" fill-opacity="0.8"/>
<circle cx="436.01" cy="172.71" r="0.55" fill="#d05060" fill-opacity="0.8"/>
<circle cx="438.58" cy="108.20" r="0.55" fill="#999" fill-opacity="0.8"/>
<circle cx="439.40" cy="37.60" r="0.55" fill="#999" fill-opacity="0.8"/>
<circle cx="433.89" cy="81.10" r="0.55" fill="#d05060" fill-opacity="0.8"/>
<circle cx="440.67" cy="43.88" r="0.55" fill="#d05060" fill-opacity="0.8"/>
<circle cx="439.57" cy="160.27" r="0.55" fill="#d05060" fill-opacity="0.8"/>
<circle cx="437.63" cy="107.69" r="0.55" fill="#c0392b" fill-opacity="0.8"/>
<circle cx="434.89" cy="140.56" r="0.55" fill="#999" fill-opacity="0.8"/>
<circle cx="442.08" cy="96.65" r="0.55" fill="#d05060" fill-opacity="0.8"/>
<circle cx="441.84" cy="92.19" r="0.55" fill="#c0392b" fill-opacity="0.8"/>
<circle cx="440.90" cy="175.06" r="0.55" fill="#d05060" fill-opacity="0.8"/>
<circle cx="438.24" cy="144.97" r="0.55" fill="#c0392b" fill-opacity="0.8"/>
<circle cx="436.60" cy="135.70" r="0.55" fill="#d05060" fill-opacity="0.8"/>
<circle cx="440.87" cy="41.59" r="0.55" fill="#999" fill-opacity="0.8"/>
<circle cx="433.72" cy="63.85" r="0.55" fill="#d05060" fill-opacity="0.8"/>
<circle cx="438.91" cy="153.42" r="0.55" fill="#c0392b" fill-opacity="0.8"/>
<circle cx="434.37" cy="59.21" r="0.55" fill="#c0392b" fill-opacity="0.8"/>
<circle cx="441.67" cy="156.49" r="0.55" fill="#c0392b" fill-opacity="0.8"/>
<circle cx="436.40" cy="85.76" r="0.55" fill="#d05060" fill-opacity="0.8"/>
<circle cx="441.33" cy="158.28" r="0.55" fill="#d05060" fill-opacity="0.8"/>
<circle cx="440.28" cy="176.74" r="0.55" fill="#d05060" fill-opacity="0.8"/>
<circle cx="438.61" cy="48.23" r="0.55" fill="#c0392b" fill-opacity="0.8"/>
<circle cx="441.04" cy="146.05" r="0.55" fill="#d05060" fill-opacity="0.8"/>
<circle cx="437.20" cy="145.16" r="0.55" fill="#c0392b" fill-opacity="0.8"/>
<circle cx="435.18" cy="31.83" r="0.55" fill="#c0392b" fill-opacity="0.8"/>
<circle cx="438.80" cy="48.09" r="0.55" fill="#999" fill-opacity="0.8"/>
<circle cx="436.36" cy="134.25" r="0.55" fill="#c0392b" fill-opacity="0.8"/>
<circle cx="438.21" cy="34.92" r="0.55" fill="#999" fill-opacity="0.8"/>
<circle cx="439.47" cy="97.32" r="0.55" fill="#d05060" fill-opacity="0.8"/>
<circle cx="450.48" cy="132.24" r="0.55" fill="#d08080" fill-opacity="0.8"/>
<circle cx="455.18" cy="60.22" r="0.55" fill="#d08080" fill-opacity="0.8"/>
<circle cx="455.04" cy="85.36" r="0.55" fill="#e0a0a0" fill-opacity="0.8"/>
<circle cx="450.71" cy="71.57" r="0.55" fill="#aaa" fill-opacity="0.8"/>
<circle cx="450.63" cy="131.78" r="0.55" fill="#aaa" fill-opacity="0.8"/>
<circle cx="447.41" cy="106.27" r="0.55" fill="#d08080" fill-opacity="0.8"/>
<circle cx="452.04" cy="71.72" r="0.55" fill="#d08080" fill-opacity="0.8"/>
<circle cx="454.21" cy="165.16" r="0.55" fill="#e0a0a0" fill-opacity="0.8"/>
<circle cx="447.20" cy="89.19" r="0.55" fill="#d08080" fill-opacity="0.8"/>
<circle cx="451.04" cy="41.97" r="0.55" fill="#aaa" fill-opacity="0.8"/>
<circle cx="446.97" cy="172.35" r="0.55" fill="#aaa" fill-opacity="0.8"/>
<circle cx="452.65" cy="68.73" r="0.55" fill="#aaa" fill-opacity="0.8"/>
<circle cx="453.24" cy="126.73" r="0.55" fill="#c0392b" fill-opacity="0.8"/>
<circle cx="451.43" cy="140.42" r="0.55" fill="#aaa" fill-opacity="0.8"/>
<circle cx="453.92" cy="81.83" r="0.55" fill="#aaa" fill-opacity="0.8"/>
<circle cx="453.33" cy="155.71" r="0.55" fill="#aaa" fill-opacity="0.8"/>
<circle cx="455.01" cy="33.87" r="0.55" fill="#aaa" fill-opacity="0.8"/>
<circle cx="452.25" cy="83.68" r="0.55" fill="#aaa" fill-opacity="0.8"/>
<circle cx="450.67" cy="59.80" r="0.55" fill="#c0392b" fill-opacity="0.8"/>
<circle cx="449.33" cy="128.14" r="0.55" fill="#aaa" fill-opacity="0.8"/>
<circle cx="450.57" cy="146.73" r="0.55" fill="#aaa" fill-opacity="0.8"/>
<circle cx="449.53" cy="33.54" r="0.55" fill="#aaa" fill-opacity="0.8"/>
<circle cx="453.04" cy="94.54" r="0.55" fill="#aaa" fill-opacity="0.8"/>
<circle cx="449.55" cy="157.59" r="0.55" fill="#e0a0a0" fill-opacity="0.8"/>
<circle cx="454.23" cy="45.94" r="0.55" fill="#d08080" fill-opacity="0.8"/>
<circle cx="455.19" cy="116.50" r="0.55" fill="#e0a0a0" fill-opacity="0.8"/>
<circle cx="451.06" cy="152.32" r="0.55" fill="#aaa" fill-opacity="0.8"/>
<circle cx="448.19" cy="122.47" r="0.55" fill="#d08080" fill-opacity="0.8"/>
<circle cx="454.84" cy="168.41" r="0.55" fill="#aaa" fill-opacity="0.8"/>
<circle cx="448.95" cy="115.50" r="0.55" fill="#e0a0a0" fill-opacity="0.8"/>
<circle cx="462.07" cy="176.93" r="0.55" fill="#d8c060" fill-opacity="0.8"/>
<circle cx="465.78" cy="176.37" r="0.55" fill="#d8c060" fill-opacity="0.8"/>
<circle cx="468.98" cy="176.61" r="0.55" fill="#e0d080" fill-opacity="0.8"/>
<circle cx="461.59" cy="176.42" r="0.55" fill="#d8c060" fill-opacity="0.8"/>
<circle cx="461.10" cy="176.12" r="0.55" fill="#d8c060" fill-opacity="0.8"/>
<circle cx="464.44" cy="176.51" r="0.55" fill="#d8c060" fill-opacity="0.8"/>
<circle cx="463.84" cy="176.12" r="0.55" fill="#e0d080" fill-opacity="0.8"/>
<circle cx="463.52" cy="176.71" r="0.55" fill="#cc9" fill-opacity="0.8"/>
<circle cx="465.41" cy="176.48" r="0.55" fill="#e0d080" fill-opacity="0.8"/>
<circle cx="466.56" cy="176.18" r="0.55" fill="#d8c060" fill-opacity="0.8"/>
<circle cx="460.11" cy="176.74" r="0.55" fill="#cc9" fill-opacity="0.8"/>
<circle cx="468.67" cy="176.06" r="0.55" fill="#555" fill-opacity="0.8"/>
<circle cx="467.90" cy="176.82" r="0.55" fill="#555" fill-opacity="0.8"/>
<circle cx="468.78" cy="176.45" r="0.55" fill="#cc9" fill-opacity="0.8"/>
<circle cx="460.95" cy="169.93" r="0.55" fill="#cc9" fill-opacity="0.8"/>
<circle cx="477.71" cy="175.29" r="0.55" fill="#999" fill-opacity="0.8"/>
<circle cx="478.86" cy="175.93" r="0.55" fill="#777" fill-opacity="0.8"/>
<circle cx="482.11" cy="175.17" r="0.55" fill="#999" fill-opacity="0.8"/>
<circle cx="478.98" cy="173.99" r="0.55" fill="#777" fill-opacity="0.8"/>
<circle cx="480.89" cy="174.43" r="0.55" fill="#999" fill-opacity="0.8"/>
<circle cx="476.94" cy="175.68" r="0.55" fill="#777" fill-opacity="0.8"/>
<circle cx="478.59" cy="174.44" r="0.55" fill="#999" fill-opacity="0.8"/>
<circle cx="476.43" cy="174.98" r="0.55" fill="#777" fill-opacity="0.8"/>
<circle cx="493.57" cy="174.93" r="0.55" fill="#888" fill-opacity="0.8"/>
<circle cx="491.37" cy="175.67" r="0.55" fill="#888" fill-opacity="0.8"/>
<circle cx="487.08" cy="175.99" r="0.55" fill="#888" fill-opacity="0.8"/>
<circle cx="491.33" cy="174.70" r="0.55" fill="#888" fill-opacity="0.8"/>
<circle cx="488.19" cy="175.84" r="0.55" fill="#888" fill-opacity="0.8"/>
<circle cx="488.00" cy="175.87" r="0.55" fill="#555" fill-opacity="0.8"/>
<circle cx="489.11" cy="175.33" r="0.55" fill="#888" fill-opacity="0.8"/>
<circle cx="493.94" cy="176.09" r="0.55" fill="#555" fill-opacity="0.8"/>
<circle cx="487.02" cy="174.98" r="0.55" fill="#888" fill-opacity="0.8"/>
<circle cx="489.09" cy="176.63" r="0.55" fill="#888" fill-opacity="0.8"/>
<circle cx="493.94" cy="170.71" r="0.55" fill="#888" fill-opacity="0.8"/>
<circle cx="500.25" cy="168.45" r="0.55" fill="#666" fill-opacity="0.8"/>
<circle cx="502.81" cy="167.96" r="0.55" fill="#666" fill-opacity="0.8"/>
<circle cx="505.62" cy="170.45" r="0.55" fill="#999" fill-opacity="0.8"/>
<circle cx="504.28" cy="152.09" r="0.55" fill="#666" fill-opacity="0.8"/>
<circle cx="506.24" cy="167.40" r="0.55" fill="#999" fill-opacity="0.8"/>
<circle cx="500.43" cy="160.47" r="0.55" fill="#666" fill-opacity="0.8"/>
<circle cx="505.08" cy="163.41" r="0.55" fill="#999" fill-opacity="0.8"/>
<circle cx="508.09" cy="159.66" r="0.55" fill="#666" fill-opacity="0.8"/>
<circle cx="500.23" cy="160.57" r="0.55" fill="#666" fill-opacity="0.8"/>
<circle cx="505.45" cy="157.49" r="0.55" fill="#999" fill-opacity="0.8"/>
<line x1="438.15" y1="29.2" x2="438.15" y2="70.0" stroke="#222" stroke-width="1.1"/>
<line x1="438.15" y1="169.3" x2="438.15" y2="177.0" stroke="#222" stroke-width="1.1"/>
<rect x="433.2" y="70.0" width="9.90" height="99.30" fill="none" stroke="#1a1a1a" stroke-width="1.3"/>
<line x1="433.2" y1="100.9" x2="443.1" y2="100.9" stroke="#222" stroke-width="1.2"/>
<line x1="451.00" y1="30.7" x2="451.00" y2="102.0" stroke="#222" stroke-width="1.1"/>
<line x1="451.00" y1="155.6" x2="451.00" y2="177.0" stroke="#222" stroke-width="1.1"/>
<rect x="446.0" y="102.0" width="10.00" height="53.60" fill="none" stroke="#1a1a1a" stroke-width="1.3"/>
<line x1="446.0" y1="134.8" x2="456.0" y2="134.8" stroke="#222" stroke-width="1.2"/>
<line x1="504.70" y1="150.1" x2="504.70" y2="159.7" stroke="#222" stroke-width="1.1"/>
<line x1="504.70" y1="169.2" x2="504.70" y2="174.3" stroke="#222" stroke-width="1.1"/>
<rect x="499.6" y="159.7" width="10.20" height="9.50" fill="none" stroke="#1a1a1a" stroke-width="1.3"/>
<line x1="499.6" y1="162.7" x2="509.8" y2="162.7" stroke="#222" stroke-width="1.0"/>
<line x1="499.6" y1="165.5" x2="509.8" y2="165.5" stroke="#222" stroke-width="1.0"/>
<rect x="84.8" y="25.00" width="39.8" height="1.60" fill="#7e7e7e"/>
<line x1="86.7" y1="25.00" x2="122.4" y2="25.00" stroke="#7c7c7c" stroke-width="0.5"/>
<line x1="92.1" y1="26.60" x2="122.7" y2="26.60" stroke="#888" stroke-width="0.5"/>
<line x1="85.4" y1="25.80" x2="91.5" y2="25.80" stroke="#f0f0f0" stroke-width="0.6"/>
<rect x="123.4" y="25.20" width="1.4" height="1.2" fill="#333"/>
<line x1="84.80" y1="25.0" x2="84.80" y2="26.6" stroke="#444" stroke-width="0.7"/>
<rect x="79.4" y="27.00" width="45.2" height="1.60" fill="#7e7e7e"/>
<line x1="86.1" y1="27.00" x2="123.6" y2="27.00" stroke="#707070" stroke-width="0.5"/>
<line x1="80.9" y1="28.60" x2="121.7" y2="28.60" stroke="#888" stroke-width="0.5"/>
<line x1="80.0" y1="27.80" x2="93.8" y2="27.80" stroke="#f0f0f0" stroke-width="0.6"/>
<rect x="124.6" y="27.20" width="4.6" height="1.20" fill="#b8b8b8"/>
<rect x="128.0" y="27.20" width="1.4" height="1.2" fill="#333"/>
<line x1="79.40" y1="27.0" x2="79.40" y2="28.6" stroke="#444" stroke-width="0.7"/>
<rect x="79.4" y="29.40" width="49.8" height="1.60" fill="#7e7e7e"/>
<line x1="84.5" y1="29.40" x2="128.6" y2="29.40" stroke="#707070" stroke-width="0.5"/>
<line x1="86.3" y1="31.00" x2="127.1" y2="31.00" stroke="#666" stroke-width="0.5"/>
<line x1="80.0" y1="30.20" x2="92.1" y2="30.20" stroke="#f0f0f0" stroke-width="0.6"/>
<rect x="128.0" y="29.60" width="1.4" height="1.2" fill="#333"/>
<line x1="79.40" y1="29.4" x2="79.40" y2="31.0" stroke="#444" stroke-width="0.7"/>
<rect x="78.5" y="31.60" width="34.5" height="1.80" fill="#7e7e7e"/>
<line x1="84.6" y1="31.60" x2="110.6" y2="31.60" stroke="#7c7c7c" stroke-width="0.5"/>
<line x1="84.7" y1="33.40" x2="109.7" y2="33.40" stroke="#7c7c7c" stroke-width="0.5"/>
<line x1="79.1" y1="32.50" x2="89.2" y2="32.50" stroke="#f0f0f0" stroke-width="0.6"/>
<rect x="113.0" y="31.80" width="12.7" height="1.40" fill="#a08890"/>
<line x1="78.50" y1="31.6" x2="78.50" y2="33.4" stroke="#444" stroke-width="0.7"/>
<rect x="78.0" y="34.20" width="22.0" height="1.50" fill="#7e7e7e"/>
<line x1="85.0" y1="34.20" x2="97.1" y2="34.20" stroke="#5a5a5a" stroke-width="0.5"/>
<line x1="81.2" y1="35.70" x2="96.8" y2="35.70" stroke="#5a5a5a" stroke-width="0.5"/>
<line x1="78.6" y1="34.95" x2="93.6" y2="34.95" stroke="#f0f0f0" stroke-width="0.6"/>
<rect x="100.0" y="34.40" width="25.7" height="1.10" fill="#988080"/>
<rect x="124.5" y="34.35" width="1.4" height="1.2" fill="#333"/>
<line x1="78.00" y1="34.2" x2="78.00" y2="35.7" stroke="#444" stroke-width="0.7"/>
<rect x="85.5" y="36.10" width="33.3" height="1.80" fill="#7e7e7e"/>
<line x1="88.4" y1="36.10" x2="118.7" y2="36.10" stroke="#5a5a5a" stroke-width="0.5"/>
<line x1="87.2" y1="37.90" x2="114.9" y2="37.90" stroke="#5a5a5a" stroke-width="0.5"/>
<line x1="86.1" y1="37.00" x2="99.3" y2="37.00" stroke="#f0f0f0" stroke-width="0.6"/>
<rect x="118.8" y="36.30" width="7.5" height="1.40" fill="#80a880"/>
<line x1="85.50" y1="36.1" x2="85.50" y2="37.9" stroke="#444" stroke-width="0.7"/>
<rect x="95.0" y="38.50" width="23.8" height="1.80" fill="#7e7e7e"/>
<line x1="98.4" y1="38.50" x2="115.5" y2="38.50" stroke="#888" stroke-width="0.5"/>
<line x1="97.8" y1="40.30" x2="116.5" y2="40.30" stroke="#888" stroke-width="0.5"/>
<line x1="95.6" y1="39.40" x2="103.3" y2="39.40" stroke="#f0f0f0" stroke-width="0.6"/>
<rect x="118.8" y="38.70" width="8.2" height="1.40" fill="#88b088"/>
<rect x="125.8" y="38.80" width="1.4" height="1.2" fill="#333"/>
<line x1="95.00" y1="38.5" x2="95.00" y2="40.3" stroke="#444" stroke-width="0.7"/>
<rect x="94.6" y="40.80" width="34.6" height="1.60" fill="#7e7e7e"/>
<line x1="101.9" y1="40.80" x2="129.1" y2="40.80" stroke="#7c7c7c" stroke-width="0.5"/>
<line x1="102.5" y1="42.40" x2="126.5" y2="42.40" stroke="#707070" stroke-width="0.5"/>
<line x1="95.2" y1="41.60" x2="107.6" y2="41.60" stroke="#f0f0f0" stroke-width="0.6"/>
<rect x="128.0" y="41.00" width="1.4" height="1.2" fill="#333"/>
<line x1="94.60" y1="40.8" x2="94.60" y2="42.4" stroke="#444" stroke-width="0.7"/>
<rect x="84.0" y="42.80" width="45.2" height="1.60" fill="#7e7e7e"/>
<line x1="88.3" y1="42.80" x2="126.9" y2="42.80" stroke="#666" stroke-width="0.5"/>
<line x1="89.7" y1="44.40" x2="128.4" y2="44.40" stroke="#888" stroke-width="0.5"/>
<line x1="84.6" y1="43.60" x2="92.7" y2="43.60" stroke="#f0f0f0" stroke-width="0.6"/>
<rect x="128.0" y="43.00" width="1.4" height="1.2" fill="#333"/>
<line x1="84.00" y1="42.8" x2="84.00" y2="44.4" stroke="#444" stroke-width="0.7"/>
<rect x="72.0" y="44.90" width="49.0" height="2.30" fill="#7e7e7e"/>
<line x1="75.9" y1="44.90" x2="118.4" y2="44.90" stroke="#5a5a5a" stroke-width="0.5"/>
<line x1="72.7" y1="46.05" x2="117.8" y2="46.05" stroke="#5a5a5a" stroke-width="0.5"/>
<line x1="79.2" y1="47.20" x2="120.9" y2="47.20" stroke="#5a5a5a" stroke-width="0.5"/>
<line x1="72.6" y1="45.66" x2="85.7" y2="45.66" stroke="#f0f0f0" stroke-width="0.6"/>
<line x1="72.6" y1="46.51" x2="86.7" y2="46.51" stroke="#f0f0f0" stroke-width="0.6"/>
<rect x="119.8" y="45.45" width="1.4" height="1.2" fill="#333"/>
<line x1="72.00" y1="44.9" x2="72.00" y2="47.2" stroke="#444" stroke-width="0.7"/>
<rect x="79.6" y="48.30" width="33.4" height="2.20" fill="#7e7e7e"/>
<line x1="84.5" y1="48.30" x2="112.8" y2="48.30" stroke="#888" stroke-width="0.5"/>
<line x1="82.2" y1="49.40" x2="109.5" y2="49.40" stroke="#7c7c7c" stroke-width="0.5"/>
<line x1="83.6" y1="50.50" x2="109.0" y2="50.50" stroke="#7c7c7c" stroke-width="0.5"/>
<line x1="80.2" y1="49.03" x2="85.7" y2="49.03" stroke="#f0f0f0" stroke-width="0.6"/>
<line x1="80.2" y1="49.84" x2="86.7" y2="49.84" stroke="#f0f0f0" stroke-width="0.6"/>
<rect x="113.0" y="48.50" width="23.5" height="1.80" fill="#c0c0c0"/>
<rect x="135.3" y="48.80" width="1.4" height="1.2" fill="#333"/>
<line x1="79.60" y1="48.3" x2="79.60" y2="50.5" stroke="#444" stroke-width="0.7"/>
<rect x="62.0" y="51.30" width="67.2" height="2.90" fill="#7e7e7e"/>
<line x1="69.6" y1="51.30" x2="125.3" y2="51.30" stroke="#7c7c7c" stroke-width="0.5"/>
<line x1="66.9" y1="52.27" x2="128.6" y2="52.27" stroke="#666" stroke-width="0.5"/>
<line x1="69.8" y1="53.23" x2="127.8" y2="53.23" stroke="#7c7c7c" stroke-width="0.5"/>
<line x1="69.7" y1="54.20" x2="125.6" y2="54.20" stroke="#5a5a5a" stroke-width="0.5"/>
<line x1="62.6" y1="52.26" x2="71.8" y2="52.26" stroke="#f0f0f0" stroke-width="0.6"/>
<line x1="62.6" y1="53.33" x2="76.7" y2="53.33" stroke="#f0f0f0" stroke-width="0.6"/>
<rect x="127.0" y="51.50" width="5.7" height="2.50" fill="#e0d8a8"/>
<rect x="131.5" y="52.15" width="1.4" height="1.2" fill="#333"/>
<line x1="62.00" y1="51.3" x2="62.00" y2="54.2" stroke="#444" stroke-width="0.7"/>
<rect x="58.4" y="55.60" width="51.2" height="2.60" fill="#7e7e7e"/>
<line x1="65.3" y1="55.60" x2="106.9" y2="55.60" stroke="#666" stroke-width="0.5"/>
<line x1="63.4" y1="56.90" x2="105.8" y2="56.90" stroke="#888" stroke-width="0.5"/>
<line x1="60.6" y1="58.20" x2="107.1" y2="58.20" stroke="#707070" stroke-width="0.5"/>
<line x1="59.0" y1="56.46" x2="73.8" y2="56.46" stroke="#f0f0f0" stroke-width="0.6"/>
<line x1="59.0" y1="57.42" x2="68.8" y2="57.42" stroke="#f0f0f0" stroke-width="0.6"/>
<rect x="109.6" y="55.80" width="9.2" height="2.20" fill="#b0b0b0"/>
<rect x="117.6" y="56.30" width="1.4" height="1.2" fill="#333"/>
<line x1="58.40" y1="55.6" x2="58.40" y2="58.2" stroke="#444" stroke-width="0.7"/>
<rect x="67.4" y="58.60" width="39.9" height="2.00" fill="#7e7e7e"/>
<line x1="69.8" y1="58.60" x2="105.9" y2="58.60" stroke="#5a5a5a" stroke-width="0.5"/>
<line x1="75.3" y1="59.60" x2="106.0" y2="59.60" stroke="#5a5a5a" stroke-width="0.5"/>
<line x1="72.3" y1="60.60" x2="104.8" y2="60.60" stroke="#666" stroke-width="0.5"/>
<line x1="68.0" y1="59.26" x2="79.7" y2="59.26" stroke="#f0f0f0" stroke-width="0.6"/>
<line x1="68.0" y1="60.00" x2="76.7" y2="60.00" stroke="#f0f0f0" stroke-width="0.6"/>
<rect x="106.1" y="59.00" width="1.4" height="1.2" fill="#333"/>
<line x1="67.40" y1="58.6" x2="67.40" y2="60.6" stroke="#444" stroke-width="0.7"/>
<rect x="56.8" y="61.20" width="41.2" height="2.20" fill="#7e7e7e"/>
<line x1="64.1" y1="61.20" x2="95.6" y2="61.20" stroke="#7c7c7c" stroke-width="0.5"/>
<line x1="62.7" y1="62.30" x2="97.9" y2="62.30" stroke="#666" stroke-width="0.5"/>
<line x1="64.4" y1="63.40" x2="97.9" y2="63.40" stroke="#7c7c7c" stroke-width="0.5"/>
<line x1="57.4" y1="61.93" x2="65.3" y2="61.93" stroke="#f0f0f0" stroke-width="0.6"/>
<line x1="57.4" y1="62.74" x2="67.4" y2="62.74" stroke="#f0f0f0" stroke-width="0.6"/>
<rect x="98.0" y="61.40" width="7.0" height="1.80" fill="#c8a8b0"/>
<rect x="103.8" y="61.70" width="1.4" height="1.2" fill="#333"/>
<line x1="56.80" y1="61.2" x2="56.80" y2="63.4" stroke="#444" stroke-width="0.7"/>
<rect x="51.4" y="64.40" width="65.1" height="2.20" fill="#7e7e7e"/>
<line x1="54.0" y1="64.40" x2="115.0" y2="64.40" stroke="#7c7c7c" stroke-width="0.5"/>
<line x1="57.5" y1="65.50" x2="113.1" y2="65.50" stroke="#7c7c7c" stroke-width="0.5"/>
<line x1="53.8" y1="66.60" x2="115.0" y2="66.60" stroke="#666" stroke-width="0.5"/>
<line x1="52.0" y1="65.13" x2="67.1" y2="65.13" stroke="#f0f0f0" stroke-width="0.6"/>
<line x1="52.0" y1="65.94" x2="64.2" y2="65.94" stroke="#f0f0f0" stroke-width="0.6"/>
<rect x="115.3" y="64.90" width="1.4" height="1.2" fill="#333"/>
<line x1="51.40" y1="64.4" x2="51.40" y2="66.6" stroke="#444" stroke-width="0.7"/>
<rect x="45.9" y="67.80" width="37.1" height="2.20" fill="#7e7e7e"/>
<line x1="49.9" y1="67.80" x2="80.4" y2="67.80" stroke="#7c7c7c" stroke-width="0.5"/>
<line x1="47.8" y1="68.90" x2="82.3" y2="68.90" stroke="#5a5a5a" stroke-width="0.5"/>
<line x1="51.1" y1="70.00" x2="82.6" y2="70.00" stroke="#888" stroke-width="0.5"/>
<line x1="46.5" y1="68.53" x2="55.1" y2="68.53" stroke="#f0f0f0" stroke-width="0.6"/>
<line x1="46.5" y1="69.34" x2="55.2" y2="69.34" stroke="#f0f0f0" stroke-width="0.6"/>
<line x1="45.90" y1="67.8" x2="45.90" y2="70.0" stroke="#444" stroke-width="0.7"/>
<rect x="41.5" y="70.60" width="28.5" height="2.00" fill="#7e7e7e"/>
<line x1="45.0" y1="70.60" x2="66.6" y2="70.60" stroke="#707070" stroke-width="0.5"/>
<line x1="42.1" y1="71.60" x2="67.0" y2="71.60" stroke="#707070" stroke-width="0.5"/>
<line x1="48.6" y1="72.60" x2="68.2" y2="72.60" stroke="#707070" stroke-width="0.5"/>
<line x1="42.1" y1="71.26" x2="55.4" y2="71.26" stroke="#f0f0f0" stroke-width="0.6"/>
<line x1="42.1" y1="72.00" x2="47.8" y2="72.00" stroke="#f0f0f0" stroke-width="0.6"/>
<rect x="64.0" y="70.80" width="6.0" height="1.60" fill="#c0b070"/>
<line x1="41.50" y1="70.6" x2="41.50" y2="72.6" stroke="#444" stroke-width="0.7"/>
<rect x="34.5" y="77.80" width="35.5" height="2.20" fill="#7e7e7e"/>
<line x1="37.0" y1="77.80" x2="66.7" y2="77.80" stroke="#888" stroke-width="0.5"/>
<line x1="36.0" y1="78.90" x2="68.9" y2="78.90" stroke="#666" stroke-width="0.5"/>
<line x1="41.0" y1="80.00" x2="68.6" y2="80.00" stroke="#707070" stroke-width="0.5"/>
<line x1="35.1" y1="78.53" x2="44.7" y2="78.53" stroke="#f0f0f0" stroke-width="0.6"/>
<line x1="35.1" y1="79.34" x2="45.7" y2="79.34" stroke="#f0f0f0" stroke-width="0.6"/>
<line x1="34.50" y1="77.8" x2="34.50" y2="80.0" stroke="#444" stroke-width="0.7"/>
<line x1="61.00" y1="38.8" x2="61.00" y2="52.6" stroke="#555" stroke-width="0.8"/>
<line x1="61.0" y1="38.80" x2="64.4" y2="38.80" stroke="#555" stroke-width="0.8"/>
<line x1="64.40" y1="31.2" x2="64.40" y2="44.4" stroke="#555" stroke-width="0.8"/>
<line x1="64.4" y1="31.20" x2="70.3" y2="31.20" stroke="#555" stroke-width="0.8"/>
<line x1="64.4" y1="36.40" x2="85.5" y2="36.40" stroke="#555" stroke-width="0.8"/>
<line x1="64.4" y1="44.40" x2="71.8" y2="44.40" stroke="#555" stroke-width="0.8"/>
<line x1="70.30" y1="29.1" x2="70.30" y2="33.2" stroke="#555" stroke-width="0.8"/>
<line x1="70.3" y1="29.10" x2="76.9" y2="29.10" stroke="#555" stroke-width="0.8"/>
<line x1="70.3" y1="33.20" x2="77.9" y2="33.20" stroke="#555" stroke-width="0.8"/>
<line x1="76.90" y1="26.0" x2="76.90" y2="30.1" stroke="#555" stroke-width="0.8"/>
<line x1="76.9" y1="26.00" x2="84.8" y2="26.00" stroke="#555" stroke-width="0.8"/>
<line x1="76.9" y1="28.10" x2="79.4" y2="28.10" stroke="#555" stroke-width="0.8"/>
<line x1="76.9" y1="30.10" x2="79.4" y2="30.10" stroke="#555" stroke-width="0.8"/>
<line x1="77.90" y1="32.2" x2="77.90" y2="34.9" stroke="#555" stroke-width="0.8"/>
<line x1="77.9" y1="32.30" x2="78.5" y2="32.30" stroke="#555" stroke-width="0.8"/>
<line x1="77.9" y1="34.90" x2="78.0" y2="34.90" stroke="#555" stroke-width="0.8"/>
<line x1="71.80" y1="42.3" x2="71.80" y2="45.9" stroke="#555" stroke-width="0.8"/>
<line x1="71.8" y1="42.30" x2="84.0" y2="42.30" stroke="#666" stroke-width="0.6"/>
<line x1="71.8" y1="45.90" x2="72.0" y2="45.90" stroke="#555" stroke-width="0.8"/>
<line x1="84.00" y1="39.6" x2="84.00" y2="43.6" stroke="#555" stroke-width="0.8"/>
<line x1="84.0" y1="39.60" x2="95.0" y2="39.60" stroke="#555" stroke-width="0.8"/>
<line x1="84.0" y1="41.60" x2="94.6" y2="41.60" stroke="#555" stroke-width="0.8"/>
<line x1="61.0" y1="48.40" x2="79.6" y2="48.40" stroke="#555" stroke-width="0.8"/>
<line x1="61.0" y1="52.60" x2="62.0" y2="52.60" stroke="#555" stroke-width="0.8"/>
<line x1="56.3" y1="50.20" x2="61.0" y2="50.20" stroke="#555" stroke-width="0.8"/>
<line x1="56.30" y1="50.2" x2="56.30" y2="57.5" stroke="#555" stroke-width="0.8"/>
<line x1="56.3" y1="57.50" x2="58.4" y2="57.50" stroke="#555" stroke-width="0.8"/>
<line x1="58.4" y1="59.60" x2="67.4" y2="59.60" stroke="#555" stroke-width="0.8"/>
<line x1="58.40" y1="57.0" x2="58.40" y2="59.6" stroke="#555" stroke-width="0.8"/>
<line x1="51.4" y1="53.70" x2="56.3" y2="53.70" stroke="#555" stroke-width="0.8"/>
<line x1="51.40" y1="53.7" x2="51.40" y2="61.4" stroke="#555" stroke-width="0.8"/>
<line x1="51.4" y1="61.40" x2="56.8" y2="61.40" stroke="#555" stroke-width="0.8"/>
<line x1="47.0" y1="58.10" x2="51.4" y2="58.10" stroke="#555" stroke-width="0.8"/>
<line x1="47.00" y1="58.1" x2="47.00" y2="65.2" stroke="#555" stroke-width="0.8"/>
<line x1="47.0" y1="65.20" x2="51.4" y2="65.20" stroke="#555" stroke-width="0.8"/>
<line x1="42.6" y1="61.90" x2="47.0" y2="61.90" stroke="#555" stroke-width="0.8"/>
<line x1="42.60" y1="61.9" x2="42.60" y2="68.4" stroke="#555" stroke-width="0.8"/>
<line x1="42.6" y1="68.40" x2="45.9" y2="68.40" stroke="#555" stroke-width="0.8"/>
<line x1="39.4" y1="65.20" x2="42.6" y2="65.20" stroke="#555" stroke-width="0.8"/>
<line x1="39.40" y1="65.2" x2="39.40" y2="71.2" stroke="#555" stroke-width="0.8"/>
<line x1="39.4" y1="71.20" x2="41.5" y2="71.20" stroke="#555" stroke-width="0.8"/>
<line x1="36.6" y1="67.40" x2="39.4" y2="67.40" stroke="#555" stroke-width="0.8"/>
<line x1="36.60" y1="67.4" x2="36.60" y2="69.6" stroke="#555" stroke-width="0.8"/>
<line x1="18.2" y1="69.60" x2="36.6" y2="69.60" stroke="#555" stroke-width="0.8"/>
<line x1="18.2" y1="68.70" x2="36.6" y2="68.70" stroke="#999" stroke-width="0.5"/>
<line x1="18.20" y1="69.6" x2="18.20" y2="80.2" stroke="#555" stroke-width="0.8"/>
<line x1="24.70" y1="74.5" x2="24.70" y2="80.2" stroke="#555" stroke-width="0.8"/>
<line x1="24.7" y1="74.50" x2="59.0" y2="74.50" stroke="#777" stroke-width="0.8"/>
<line x1="24.7" y1="75.40" x2="59.0" y2="75.40" stroke="#aaa" stroke-width="0.5"/>
<ellipse cx="60.7" cy="75" rx="3.4" ry="2.0" fill="#b8a060" fill-opacity="0.9"/>
<line x1="60.0" y1="76.60" x2="77.4" y2="76.60" stroke="#999" stroke-width="0.6"/>
<line x1="24.7" y1="79.00" x2="34.5" y2="79.00" stroke="#555" stroke-width="0.8"/>
<line x1="13.3" y1="80.20" x2="24.7" y2="80.20" stroke="#555" stroke-width="0.8"/>
<line x1="13.30" y1="74.5" x2="13.30" y2="82.7" stroke="#555" stroke-width="0.8"/>
<line x1="13.3" y1="74.50" x2="18.2" y2="74.50" stroke="#777" stroke-width="0.6"/>
<line x1="9.3" y1="82.70" x2="13.3" y2="82.70" stroke="#555" stroke-width="0.8"/>
<line x1="12.50" y1="87.3" x2="12.50" y2="91.1" stroke="#555" stroke-width="0.8"/>
<line x1="8.3" y1="88.90" x2="12.5" y2="88.90" stroke="#555" stroke-width="0.8"/>
<line x1="12.5" y1="87.80" x2="21.8" y2="87.80" stroke="#777" stroke-width="0.7"/>
<ellipse cx="23.0" cy="86.4" rx="3.0" ry="2.0" fill="#c0a850" fill-opacity="0.85"/>
<line x1="12.5" y1="89.40" x2="47.6" y2="89.40" stroke="#888" stroke-width="0.8"/>
<line x1="10.90" y1="78.0" x2="10.90" y2="83.5" stroke="#555" stroke-width="0.8"/>
<ellipse cx="14.5" cy="93.3" rx="2.2" ry="1.6" fill="#b8a050" fill-opacity="0.85"/>
<line x1="8.30" y1="80.0" x2="8.30" y2="251.0" stroke="#8a8a8a" stroke-width="0.9"/>
<line x1="11.2" y1="92.00" x2="18.8" y2="92.00" stroke="#8a7430" stroke-width="0.9"/>
<line x1="10.4" y1="89.16" x2="11.6" y2="94.84" stroke="#2a2a2a" stroke-width="0.75"/>
<line x1="8.3" y1="92.00" x2="11.0" y2="92.00" stroke="#555" stroke-width="0.6"/>
<line x1="12.8" y1="93.65" x2="22.7" y2="93.65" stroke="#e4cc60" stroke-width="0.9"/>
<line x1="9.6" y1="95.13" x2="16.1" y2="95.13" stroke="#6a6040" stroke-width="0.9"/>
<line x1="8.6" y1="93.55" x2="9.8" y2="96.71" stroke="#2a2a2a" stroke-width="0.75"/>
<line x1="8.3" y1="95.13" x2="9.2" y2="95.13" stroke="#555" stroke-width="0.6"/>
<line x1="11.7" y1="96.08" x2="17.0" y2="96.08" stroke="#6a6040" stroke-width="0.9"/>
<line x1="12.8" y1="96.58" x2="16.2" y2="96.58" stroke="#9a8a40" stroke-width="0.7"/>
<line x1="10.0" y1="94.69" x2="11.2" y2="97.48" stroke="#2a2a2a" stroke-width="0.75"/>
<line x1="8.3" y1="96.08" x2="10.6" y2="96.08" stroke="#555" stroke-width="0.6"/>
<line x1="11.3" y1="97.02" x2="15.6" y2="97.02" stroke="#a88c30" stroke-width="0.9"/>
<line x1="14.9" y1="97.52" x2="17.5" y2="97.52" stroke="#9a8a40" stroke-width="0.7"/>
<line x1="9.9" y1="94.14" x2="11.1" y2="99.90" stroke="#2a2a2a" stroke-width="0.75"/>
<line x1="8.3" y1="97.02" x2="10.5" y2="97.02" stroke="#555" stroke-width="0.6"/>
<line x1="12.7" y1="98.12" x2="19.3" y2="98.12" stroke="#6a6040" stroke-width="0.9"/>
<line x1="14.6" y1="98.62" x2="15.9" y2="98.62" stroke="#9a8a40" stroke-width="0.7"/>
<line x1="10.4" y1="99.12" x2="15.7" y2="99.12" stroke="#6a6040" stroke-width="0.9"/>
<line x1="15.1" y1="99.62" x2="17.5" y2="99.62" stroke="#9a8a40" stroke-width="0.7"/>
<line x1="8.9" y1="97.32" x2="10.1" y2="100.92" stroke="#2a2a2a" stroke-width="0.75"/>
<line x1="8.3" y1="99.12" x2="9.5" y2="99.12" stroke="#555" stroke-width="0.6"/>
<line x1="11.4" y1="100.51" x2="15.3" y2="100.51" stroke="#8a7430" stroke-width="0.9"/>
<line x1="10.7" y1="99.40" x2="11.9" y2="101.62" stroke="#2a2a2a" stroke-width="0.75"/>
<line x1="8.3" y1="100.51" x2="11.3" y2="100.51" stroke="#555" stroke-width="0.6"/>
<line x1="13.1" y1="101.47" x2="22.2" y2="101.47" stroke="#d8bc48" stroke-width="0.9"/>
<line x1="12.4" y1="100.15" x2="13.6" y2="102.78" stroke="#2a2a2a" stroke-width="0.75"/>
<line x1="8.3" y1="101.47" x2="13.0" y2="101.47" stroke="#555" stroke-width="0.6"/>
<line x1="10.6" y1="102.68" x2="15.8" y2="102.68" stroke="#8a7430" stroke-width="0.9"/>
<line x1="9.2" y1="101.67" x2="10.4" y2="103.69" stroke="#2a2a2a" stroke-width="0.75"/>
<line x1="9.7" y1="104.03" x2="16.2" y2="104.03" stroke="#ecdc90" stroke-width="0.9"/>
<line x1="8.3" y1="101.43" x2="9.5" y2="106.64" stroke="#2a2a2a" stroke-width="0.75"/>
<line x1="8.3" y1="104.03" x2="8.9" y2="104.03" stroke="#555" stroke-width="0.6"/>
<line x1="11.3" y1="105.23" x2="19.4" y2="105.23" stroke="#e4cc60" stroke-width="0.9"/>
<line x1="10.5" y1="104.20" x2="11.7" y2="106.27" stroke="#2a2a2a" stroke-width="0.75"/>
<line x1="8.3" y1="105.23" x2="11.1" y2="105.23" stroke="#555" stroke-width="0.6"/>
<line x1="12.5" y1="106.60" x2="17.4" y2="106.60" stroke="#b89838" stroke-width="0.9"/>
<line x1="12.8" y1="107.80" x2="21.5" y2="107.80" stroke="#8a7430" stroke-width="0.9"/>
<line x1="16.6" y1="108.30" x2="20.4" y2="108.30" stroke="#9a8a40" stroke-width="0.7"/>
<line x1="11.5" y1="109.38" x2="17.4" y2="109.38" stroke="#d8bc48" stroke-width="0.9"/>
<line x1="10.2" y1="108.18" x2="11.4" y2="110.59" stroke="#2a2a2a" stroke-width="0.75"/>
<line x1="8.3" y1="109.38" x2="10.8" y2="109.38" stroke="#555" stroke-width="0.6"/>
<line x1="12.4" y1="110.40" x2="16.2" y2="110.40" stroke="#d8bc48" stroke-width="0.9"/>
<line x1="12.5" y1="111.60" x2="18.3" y2="111.60" stroke="#6a6040" stroke-width="0.9"/>
<line x1="16.9" y1="112.10" x2="19.9" y2="112.10" stroke="#9a8a40" stroke-width="0.7"/>
<line x1="11.6" y1="113.26" x2="20.3" y2="113.26" stroke="#d8bc48" stroke-width="0.9"/>
<line x1="10.8" y1="111.20" x2="12.0" y2="115.32" stroke="#2a2a2a" stroke-width="0.75"/>
<line x1="11.5" y1="114.24" x2="18.6" y2="114.24" stroke="#6a6040" stroke-width="0.9"/>
<line x1="10.2" y1="115.33" x2="15.3" y2="115.33" stroke="#a88c30" stroke-width="0.9"/>
<line x1="11.7" y1="116.44" x2="21.3" y2="116.44" stroke="#a88c30" stroke-width="0.9"/>
<line x1="10.0" y1="114.44" x2="11.2" y2="118.44" stroke="#2a2a2a" stroke-width="0.75"/>
<line x1="8.3" y1="116.44" x2="10.6" y2="116.44" stroke="#555" stroke-width="0.6"/>
<line x1="10.1" y1="117.93" x2="18.1" y2="117.93" stroke="#6a6040" stroke-width="0.9"/>
<line x1="10.1" y1="119.38" x2="16.2" y2="119.38" stroke="#b89838" stroke-width="0.9"/>
<line x1="13.1" y1="119.88" x2="15.5" y2="119.88" stroke="#9a8a40" stroke-width="0.7"/>
<line x1="11.7" y1="121.04" x2="20.7" y2="121.04" stroke="#b89838" stroke-width="0.9"/>
<line x1="13.5" y1="121.54" x2="16.2" y2="121.54" stroke="#9a8a40" stroke-width="0.7"/>
<line x1="10.2" y1="119.58" x2="11.4" y2="122.51" stroke="#2a2a2a" stroke-width="0.75"/>
<line x1="12.1" y1="122.18" x2="18.3" y2="122.18" stroke="#6a6040" stroke-width="0.9"/>
<line x1="10.6" y1="123.79" x2="15.9" y2="123.79" stroke="#6a6040" stroke-width="0.9"/>
<line x1="12.3" y1="124.29" x2="14.4" y2="124.29" stroke="#9a8a40" stroke-width="0.7"/>
<line x1="9.9" y1="121.24" x2="11.1" y2="126.34" stroke="#2a2a2a" stroke-width="0.75"/>
<line x1="11.7" y1="125.08" x2="18.3" y2="125.08" stroke="#6a6040" stroke-width="0.9"/>
<line x1="13.2" y1="126.00" x2="17.1" y2="126.00" stroke="#e4cc60" stroke-width="0.9"/>
<line x1="12.9" y1="126.93" x2="22.2" y2="126.93" stroke="#ecdc90" stroke-width="0.9"/>
<line x1="12.7" y1="128.60" x2="17.7" y2="128.60" stroke="#b89838" stroke-width="0.9"/>
<line x1="11.2" y1="126.36" x2="12.4" y2="130.84" stroke="#2a2a2a" stroke-width="0.75"/>
<line x1="8.3" y1="128.60" x2="11.8" y2="128.60" stroke="#555" stroke-width="0.6"/>
<line x1="10.1" y1="130.25" x2="13.9" y2="130.25" stroke="#b89838" stroke-width="0.9"/>
<line x1="9.8" y1="131.22" x2="18.8" y2="131.22" stroke="#8a7430" stroke-width="0.9"/>
<line x1="12.7" y1="131.72" x2="15.9" y2="131.72" stroke="#9a8a40" stroke-width="0.7"/>
<line x1="8.8" y1="130.16" x2="10.0" y2="132.28" stroke="#2a2a2a" stroke-width="0.75"/>
<line x1="8.3" y1="131.22" x2="9.4" y2="131.22" stroke="#555" stroke-width="0.6"/>
<line x1="11.9" y1="132.18" x2="20.2" y2="132.18" stroke="#e4cc60" stroke-width="0.9"/>
<line x1="15.1" y1="132.68" x2="16.4" y2="132.68" stroke="#9a8a40" stroke-width="0.7"/>
<line x1="11.1" y1="129.85" x2="12.3" y2="134.51" stroke="#2a2a2a" stroke-width="0.75"/>
<line x1="9.9" y1="133.81" x2="19.5" y2="133.81" stroke="#8a7430" stroke-width="0.9"/>
<line x1="8.5" y1="131.91" x2="9.7" y2="135.71" stroke="#2a2a2a" stroke-width="0.75"/>
<line x1="12.5" y1="135.46" x2="16.7" y2="135.46" stroke="#8a7430" stroke-width="0.9"/>
<line x1="11.3" y1="134.24" x2="12.5" y2="136.69" stroke="#2a2a2a" stroke-width="0.75"/>
<line x1="8.3" y1="135.46" x2="11.9" y2="135.46" stroke="#555" stroke-width="0.6"/>
<line x1="12.0" y1="136.94" x2="19.2" y2="136.94" stroke="#b89838" stroke-width="0.9"/>
<line x1="10.9" y1="137.96" x2="20.4" y2="137.96" stroke="#e4cc60" stroke-width="0.9"/>
<line x1="15.6" y1="138.46" x2="17.0" y2="138.46" stroke="#9a8a40" stroke-width="0.7"/>
<line x1="9.6" y1="135.51" x2="10.8" y2="140.40" stroke="#2a2a2a" stroke-width="0.75"/>
<line x1="11.2" y1="139.37" x2="16.7" y2="139.37" stroke="#b89838" stroke-width="0.9"/>
<line x1="9.9" y1="138.01" x2="11.1" y2="140.74" stroke="#2a2a2a" stroke-width="0.75"/>
<line x1="9.9" y1="140.59" x2="15.1" y2="140.59" stroke="#d8bc48" stroke-width="0.9"/>
<line x1="9.0" y1="138.58" x2="10.2" y2="142.60" stroke="#2a2a2a" stroke-width="0.75"/>
<line x1="10.7" y1="141.77" x2="16.9" y2="141.77" stroke="#a88c30" stroke-width="0.9"/>
<line x1="8.9" y1="139.77" x2="10.1" y2="143.77" stroke="#2a2a2a" stroke-width="0.75"/>
<line x1="8.3" y1="141.77" x2="9.5" y2="141.77" stroke="#555" stroke-width="0.6"/>
<line x1="12.0" y1="143.14" x2="19.2" y2="143.14" stroke="#ecdc90" stroke-width="0.9"/>
<line x1="15.8" y1="143.64" x2="18.5" y2="143.64" stroke="#9a8a40" stroke-width="0.7"/>
<line x1="13.1" y1="144.36" x2="17.5" y2="144.36" stroke="#a88c30" stroke-width="0.9"/>
<line x1="15.7" y1="144.86" x2="17.3" y2="144.86" stroke="#9a8a40" stroke-width="0.7"/>
<line x1="12.3" y1="142.22" x2="13.5" y2="146.49" stroke="#2a2a2a" stroke-width="0.75"/>
<line x1="8.3" y1="144.36" x2="12.9" y2="144.36" stroke="#555" stroke-width="0.6"/>
<line x1="9.6" y1="145.88" x2="18.3" y2="145.88" stroke="#e4cc60" stroke-width="0.9"/>
<line x1="8.3" y1="143.78" x2="9.5" y2="147.99" stroke="#2a2a2a" stroke-width="0.75"/>
<line x1="12.0" y1="147.56" x2="17.5" y2="147.56" stroke="#6a6040" stroke-width="0.9"/>
<line x1="10.7" y1="146.18" x2="11.9" y2="148.94" stroke="#2a2a2a" stroke-width="0.75"/>
<line x1="8.3" y1="147.56" x2="11.3" y2="147.56" stroke="#555" stroke-width="0.6"/>
<line x1="10.4" y1="149.07" x2="15.0" y2="149.07" stroke="#ecdc90" stroke-width="0.9"/>
<line x1="9.7" y1="147.01" x2="10.9" y2="151.13" stroke="#2a2a2a" stroke-width="0.75"/>
<line x1="11.1" y1="150.48" x2="18.3" y2="150.48" stroke="#ecdc90" stroke-width="0.9"/>
<line x1="9.8" y1="147.90" x2="11.0" y2="153.07" stroke="#2a2a2a" stroke-width="0.75"/>
<line x1="8.3" y1="150.48" x2="10.4" y2="150.48" stroke="#555" stroke-width="0.6"/>
<line x1="10.4" y1="151.67" x2="14.4" y2="151.67" stroke="#a88c30" stroke-width="0.9"/>
<line x1="12.7" y1="152.17" x2="14.7" y2="152.17" stroke="#9a8a40" stroke-width="0.7"/>
<line x1="9.7" y1="149.29" x2="10.9" y2="154.06" stroke="#2a2a2a" stroke-width="0.75"/>
<line x1="9.6" y1="153.19" x2="13.6" y2="153.19" stroke="#8a7430" stroke-width="0.9"/>
<line x1="8.8" y1="152.07" x2="10.0" y2="154.32" stroke="#2a2a2a" stroke-width="0.75"/>
<line x1="10.7" y1="154.27" x2="19.3" y2="154.27" stroke="#e4cc60" stroke-width="0.9"/>
<line x1="12.5" y1="154.77" x2="14.0" y2="154.77" stroke="#9a8a40" stroke-width="0.7"/>
<line x1="9.4" y1="151.87" x2="10.6" y2="156.67" stroke="#2a2a2a" stroke-width="0.75"/>
<line x1="8.3" y1="154.27" x2="10.0" y2="154.27" stroke="#555" stroke-width="0.6"/>
<line x1="10.6" y1="155.69" x2="17.1" y2="155.69" stroke="#6a6040" stroke-width="0.9"/>
<line x1="10.0" y1="153.78" x2="11.2" y2="157.60" stroke="#2a2a2a" stroke-width="0.75"/>
<line x1="8.3" y1="155.69" x2="10.6" y2="155.69" stroke="#555" stroke-width="0.6"/>
<line x1="11.2" y1="157.27" x2="17.0" y2="157.27" stroke="#e4cc60" stroke-width="0.9"/>
<line x1="12.2" y1="157.77" x2="13.8" y2="157.77" stroke="#9a8a40" stroke-width="0.7"/>
<line x1="11.2" y1="158.28" x2="16.0" y2="158.28" stroke="#b89838" stroke-width="0.9"/>
<line x1="14.5" y1="158.78" x2="17.1" y2="158.78" stroke="#9a8a40" stroke-width="0.7"/>
<line x1="11.8" y1="159.29" x2="18.1" y2="159.29" stroke="#b89838" stroke-width="0.9"/>
<line x1="12.8" y1="159.79" x2="15.2" y2="159.79" stroke="#9a8a40" stroke-width="0.7"/>
<line x1="11.1" y1="156.89" x2="12.3" y2="161.70" stroke="#2a2a2a" stroke-width="0.75"/>
<line x1="8.3" y1="159.29" x2="11.7" y2="159.29" stroke="#555" stroke-width="0.6"/>
<line x1="9.6" y1="160.51" x2="19.4" y2="160.51" stroke="#b89838" stroke-width="0.9"/>
<line x1="12.2" y1="161.01" x2="13.7" y2="161.01" stroke="#9a8a40" stroke-width="0.7"/>
<line x1="7.9" y1="159.28" x2="9.1" y2="161.74" stroke="#2a2a2a" stroke-width="0.75"/>
<line x1="10.6" y1="162.06" x2="20.5" y2="162.06" stroke="#e4cc60" stroke-width="0.9"/>
<line x1="11.6" y1="163.35" x2="15.3" y2="163.35" stroke="#8a7430" stroke-width="0.9"/>
<line x1="10.2" y1="162.16" x2="11.4" y2="164.54" stroke="#2a2a2a" stroke-width="0.75"/>
<line x1="9.5" y1="164.72" x2="13.2" y2="164.72" stroke="#d8bc48" stroke-width="0.9"/>
<line x1="12.5" y1="165.22" x2="15.0" y2="165.22" stroke="#9a8a40" stroke-width="0.7"/>
<line x1="8.5" y1="162.70" x2="9.7" y2="166.74" stroke="#2a2a2a" stroke-width="0.75"/>
<line x1="10.8" y1="166.23" x2="17.4" y2="166.23" stroke="#8a7430" stroke-width="0.9"/>
<line x1="9.4" y1="164.62" x2="10.6" y2="167.84" stroke="#2a2a2a" stroke-width="0.75"/>
<line x1="10.6" y1="167.20" x2="19.6" y2="167.20" stroke="#d8bc48" stroke-width="0.9"/>
<line x1="9.1" y1="165.12" x2="10.3" y2="169.27" stroke="#2a2a2a" stroke-width="0.75"/>
<line x1="8.3" y1="167.20" x2="9.7" y2="167.20" stroke="#555" stroke-width="0.6"/>
<line x1="12.7" y1="168.77" x2="18.7" y2="168.77" stroke="#a88c30" stroke-width="0.9"/>
<line x1="14.4" y1="169.27" x2="17.8" y2="169.27" stroke="#9a8a40" stroke-width="0.7"/>
<line x1="11.3" y1="166.88" x2="12.5" y2="170.66" stroke="#2a2a2a" stroke-width="0.75"/>
<line x1="8.3" y1="168.77" x2="11.9" y2="168.77" stroke="#555" stroke-width="0.6"/>
<line x1="11.4" y1="170.32" x2="19.8" y2="170.32" stroke="#ecdc90" stroke-width="0.9"/>
<line x1="10.1" y1="171.26" x2="18.5" y2="171.26" stroke="#6a6040" stroke-width="0.9"/>
<line x1="9.9" y1="172.70" x2="14.9" y2="172.70" stroke="#6a6040" stroke-width="0.9"/>
<line x1="9.2" y1="170.48" x2="10.4" y2="174.92" stroke="#2a2a2a" stroke-width="0.75"/>
<line x1="8.3" y1="172.70" x2="9.8" y2="172.70" stroke="#555" stroke-width="0.6"/>
<line x1="11.9" y1="174.30" x2="21.9" y2="174.30" stroke="#d8bc48" stroke-width="0.9"/>
<line x1="14.5" y1="174.80" x2="18.4" y2="174.80" stroke="#9a8a40" stroke-width="0.7"/>
<line x1="11.2" y1="172.16" x2="12.4" y2="176.43" stroke="#2a2a2a" stroke-width="0.75"/>
<line x1="8.3" y1="174.30" x2="11.8" y2="174.30" stroke="#555" stroke-width="0.6"/>
<line x1="10.4" y1="175.71" x2="14.2" y2="175.71" stroke="#b89838" stroke-width="0.9"/>
<line x1="9.7" y1="172.74" x2="10.9" y2="178.69" stroke="#2a2a2a" stroke-width="0.75"/>
<line x1="8.3" y1="175.71" x2="10.3" y2="175.71" stroke="#555" stroke-width="0.6"/>
<line x1="12.6" y1="176.78" x2="19.5" y2="176.78" stroke="#a88c30" stroke-width="0.9"/>
<line x1="11.5" y1="178.31" x2="16.2" y2="178.31" stroke="#b89838" stroke-width="0.9"/>
<line x1="10.2" y1="175.70" x2="11.4" y2="180.93" stroke="#2a2a2a" stroke-width="0.75"/>
<line x1="13.0" y1="179.29" x2="18.1" y2="179.29" stroke="#d8bc48" stroke-width="0.9"/>
<line x1="11.7" y1="176.63" x2="12.9" y2="181.95" stroke="#2a2a2a" stroke-width="0.75"/>
<line x1="12.7" y1="180.80" x2="18.5" y2="180.80" stroke="#a88c30" stroke-width="0.9"/>
<line x1="13.0" y1="181.94" x2="19.4" y2="181.94" stroke="#e4cc60" stroke-width="0.9"/>
<line x1="16.2" y1="182.44" x2="18.5" y2="182.44" stroke="#9a8a40" stroke-width="0.7"/>
<line x1="10.8" y1="182.90" x2="17.4" y2="182.90" stroke="#d8bc48" stroke-width="0.9"/>
<line x1="12.4" y1="184.09" x2="16.3" y2="184.09" stroke="#a88c30" stroke-width="0.9"/>
<line x1="14.8" y1="184.59" x2="18.8" y2="184.59" stroke="#9a8a40" stroke-width="0.7"/>
<line x1="11.7" y1="182.23" x2="12.9" y2="185.95" stroke="#2a2a2a" stroke-width="0.75"/>
<line x1="8.3" y1="184.09" x2="12.3" y2="184.09" stroke="#555" stroke-width="0.6"/>
<line x1="12.9" y1="185.12" x2="21.2" y2="185.12" stroke="#6a6040" stroke-width="0.9"/>
<line x1="12.1" y1="186.39" x2="21.2" y2="186.39" stroke="#8a7430" stroke-width="0.9"/>
<line x1="11.3" y1="188.05" x2="19.8" y2="188.05" stroke="#e4cc60" stroke-width="0.9"/>
<line x1="9.5" y1="186.98" x2="10.7" y2="189.12" stroke="#2a2a2a" stroke-width="0.75"/>
<line x1="8.3" y1="188.05" x2="10.1" y2="188.05" stroke="#555" stroke-width="0.6"/>
<line x1="9.6" y1="189.67" x2="14.1" y2="189.67" stroke="#a88c30" stroke-width="0.9"/>
<line x1="12.3" y1="190.60" x2="17.6" y2="190.60" stroke="#e4cc60" stroke-width="0.9"/>
<line x1="15.1" y1="191.10" x2="16.7" y2="191.10" stroke="#9a8a40" stroke-width="0.7"/>
<line x1="11.1" y1="191.61" x2="20.5" y2="191.61" stroke="#e4cc60" stroke-width="0.9"/>
<line x1="12.8" y1="192.11" x2="16.0" y2="192.11" stroke="#9a8a40" stroke-width="0.7"/>
<line x1="13.1" y1="193.29" x2="22.3" y2="193.29" stroke="#8a7430" stroke-width="0.9"/>
<line x1="12.0" y1="190.41" x2="13.2" y2="196.17" stroke="#2a2a2a" stroke-width="0.75"/>
<line x1="13.0" y1="194.37" x2="18.4" y2="194.37" stroke="#d8bc48" stroke-width="0.9"/>
<line x1="10.6" y1="195.92" x2="15.7" y2="195.92" stroke="#6a6040" stroke-width="0.9"/>
<line x1="9.8" y1="193.66" x2="11.0" y2="198.18" stroke="#2a2a2a" stroke-width="0.75"/>
<line x1="8.3" y1="195.92" x2="10.4" y2="195.92" stroke="#555" stroke-width="0.6"/>
<line x1="9.5" y1="197.58" x2="19.4" y2="197.58" stroke="#6a6040" stroke-width="0.9"/>
<line x1="13.1" y1="199.11" x2="16.9" y2="199.11" stroke="#b89838" stroke-width="0.9"/>
<line x1="15.2" y1="199.61" x2="18.9" y2="199.61" stroke="#9a8a40" stroke-width="0.7"/>
<line x1="12.5" y1="200.49" x2="18.9" y2="200.49" stroke="#8a7430" stroke-width="0.9"/>
<line x1="16.7" y1="200.99" x2="19.0" y2="200.99" stroke="#9a8a40" stroke-width="0.7"/>
<line x1="11.4" y1="199.40" x2="12.6" y2="201.58" stroke="#2a2a2a" stroke-width="0.75"/>
<line x1="12.9" y1="201.93" x2="21.6" y2="201.93" stroke="#b89838" stroke-width="0.9"/>
<line x1="11.0" y1="203.50" x2="19.4" y2="203.50" stroke="#8a7430" stroke-width="0.9"/>
<line x1="10.4" y1="202.17" x2="11.6" y2="204.84" stroke="#2a2a2a" stroke-width="0.75"/>
<line x1="12.9" y1="205.12" x2="19.4" y2="205.12" stroke="#ecdc90" stroke-width="0.9"/>
<line x1="11.4" y1="206.80" x2="17.3" y2="206.80" stroke="#ecdc90" stroke-width="0.9"/>
<line x1="13.1" y1="207.30" x2="16.2" y2="207.30" stroke="#9a8a40" stroke-width="0.7"/>
<line x1="11.0" y1="208.14" x2="16.8" y2="208.14" stroke="#e4cc60" stroke-width="0.9"/>
<line x1="13.0" y1="208.64" x2="14.9" y2="208.64" stroke="#9a8a40" stroke-width="0.7"/>
<line x1="10.2" y1="205.99" x2="11.4" y2="210.29" stroke="#2a2a2a" stroke-width="0.75"/>
<line x1="8.3" y1="208.14" x2="10.8" y2="208.14" stroke="#555" stroke-width="0.6"/>
<line x1="10.4" y1="209.43" x2="16.8" y2="209.43" stroke="#a88c30" stroke-width="0.9"/>
<line x1="9.1" y1="207.28" x2="10.3" y2="211.58" stroke="#2a2a2a" stroke-width="0.75"/>
<line x1="8.3" y1="209.43" x2="9.7" y2="209.43" stroke="#555" stroke-width="0.6"/>
<line x1="12.1" y1="210.55" x2="21.6" y2="210.55" stroke="#d8bc48" stroke-width="0.9"/>
<line x1="10.9" y1="209.49" x2="12.1" y2="211.62" stroke="#2a2a2a" stroke-width="0.75"/>
<line x1="11.2" y1="212.11" x2="16.7" y2="212.11" stroke="#8a7430" stroke-width="0.9"/>
<line x1="13.7" y1="212.61" x2="17.2" y2="212.61" stroke="#9a8a40" stroke-width="0.7"/>
<line x1="9.4" y1="210.57" x2="10.6" y2="213.66" stroke="#2a2a2a" stroke-width="0.75"/>
<line x1="11.0" y1="213.27" x2="16.3" y2="213.27" stroke="#b89838" stroke-width="0.9"/>
<line x1="9.8" y1="210.47" x2="11.0" y2="216.07" stroke="#2a2a2a" stroke-width="0.75"/>
<line x1="12.1" y1="214.76" x2="16.3" y2="214.76" stroke="#ecdc90" stroke-width="0.9"/>
<line x1="9.5" y1="216.31" x2="14.9" y2="216.31" stroke="#ecdc90" stroke-width="0.9"/>
<line x1="11.6" y1="216.81" x2="14.0" y2="216.81" stroke="#9a8a40" stroke-width="0.7"/>
<line x1="8.9" y1="214.22" x2="10.1" y2="218.40" stroke="#2a2a2a" stroke-width="0.75"/>
<line x1="8.3" y1="216.31" x2="9.5" y2="216.31" stroke="#555" stroke-width="0.6"/>
<line x1="10.0" y1="217.98" x2="19.4" y2="217.98" stroke="#b89838" stroke-width="0.9"/>
<line x1="9.4" y1="216.18" x2="10.6" y2="219.77" stroke="#2a2a2a" stroke-width="0.75"/>
<line x1="8.3" y1="217.98" x2="10.0" y2="217.98" stroke="#555" stroke-width="0.6"/>
<line x1="11.8" y1="219.02" x2="17.3" y2="219.02" stroke="#ecdc90" stroke-width="0.9"/>
<line x1="13.1" y1="219.96" x2="20.0" y2="219.96" stroke="#e4cc60" stroke-width="0.9"/>
<line x1="12.4" y1="218.60" x2="13.6" y2="221.32" stroke="#2a2a2a" stroke-width="0.75"/>
<line x1="8.3" y1="219.96" x2="13.0" y2="219.96" stroke="#555" stroke-width="0.6"/>
<line x1="10.6" y1="220.95" x2="16.6" y2="220.95" stroke="#a88c30" stroke-width="0.9"/>
<line x1="12.4" y1="221.45" x2="16.2" y2="221.45" stroke="#9a8a40" stroke-width="0.7"/>
<line x1="10.4" y1="222.64" x2="16.2" y2="222.64" stroke="#e4cc60" stroke-width="0.9"/>
<line x1="14.8" y1="223.14" x2="17.2" y2="223.14" stroke="#9a8a40" stroke-width="0.7"/>
<line x1="12.7" y1="223.96" x2="19.0" y2="223.96" stroke="#e4cc60" stroke-width="0.9"/>
<line x1="11.4" y1="222.08" x2="12.6" y2="225.85" stroke="#2a2a2a" stroke-width="0.75"/>
<line x1="11.7" y1="225.02" x2="21.3" y2="225.02" stroke="#6a6040" stroke-width="0.9"/>
<line x1="9.9" y1="222.30" x2="11.1" y2="227.74" stroke="#2a2a2a" stroke-width="0.75"/>
<line x1="8.3" y1="225.02" x2="10.5" y2="225.02" stroke="#555" stroke-width="0.6"/>
<line x1="10.0" y1="226.59" x2="17.4" y2="226.59" stroke="#d8bc48" stroke-width="0.9"/>
<line x1="9.6" y1="227.59" x2="18.7" y2="227.59" stroke="#6a6040" stroke-width="0.9"/>
<line x1="8.1" y1="225.84" x2="9.3" y2="229.33" stroke="#2a2a2a" stroke-width="0.75"/>
<line x1="8.3" y1="227.59" x2="8.7" y2="227.59" stroke="#555" stroke-width="0.6"/>
<line x1="11.6" y1="228.86" x2="17.3" y2="228.86" stroke="#a88c30" stroke-width="0.9"/>
<line x1="10.6" y1="226.84" x2="11.8" y2="230.87" stroke="#2a2a2a" stroke-width="0.75"/>
<line x1="8.3" y1="228.86" x2="11.2" y2="228.86" stroke="#555" stroke-width="0.6"/>
<line x1="11.7" y1="230.04" x2="21.6" y2="230.04" stroke="#8a7430" stroke-width="0.9"/>
<line x1="13.1" y1="231.17" x2="18.4" y2="231.17" stroke="#d8bc48" stroke-width="0.9"/>
<line x1="11.6" y1="228.18" x2="12.8" y2="234.16" stroke="#2a2a2a" stroke-width="0.75"/>
<line x1="8.3" y1="231.17" x2="12.2" y2="231.17" stroke="#555" stroke-width="0.6"/>
<line x1="10.5" y1="232.42" x2="14.8" y2="232.42" stroke="#8a7430" stroke-width="0.9"/>
<line x1="11.5" y1="234.11" x2="17.8" y2="234.11" stroke="#a88c30" stroke-width="0.9"/>
<line x1="14.1" y1="234.61" x2="16.8" y2="234.61" stroke="#9a8a40" stroke-width="0.7"/>
<line x1="10.4" y1="235.24" x2="16.4" y2="235.24" stroke="#b89838" stroke-width="0.9"/>
<line x1="9.1" y1="233.81" x2="10.3" y2="236.67" stroke="#2a2a2a" stroke-width="0.75"/>
<line x1="12.7" y1="236.49" x2="20.8" y2="236.49" stroke="#8a7430" stroke-width="0.9"/>
<line x1="15.2" y1="236.99" x2="17.3" y2="236.99" stroke="#9a8a40" stroke-width="0.7"/>
<line x1="11.3" y1="233.67" x2="12.5" y2="239.30" stroke="#2a2a2a" stroke-width="0.75"/>
<line x1="8.3" y1="236.49" x2="11.9" y2="236.49" stroke="#555" stroke-width="0.6"/>
<line x1="10.7" y1="237.78" x2="14.2" y2="237.78" stroke="#d8bc48" stroke-width="0.9"/>
<line x1="9.7" y1="236.62" x2="10.9" y2="238.95" stroke="#2a2a2a" stroke-width="0.75"/>
<line x1="8.3" y1="237.78" x2="10.3" y2="237.78" stroke="#555" stroke-width="0.6"/>
<line x1="11.5" y1="238.71" x2="21.0" y2="238.71" stroke="#a88c30" stroke-width="0.9"/>
<line x1="9.9" y1="236.27" x2="11.1" y2="241.15" stroke="#2a2a2a" stroke-width="0.75"/>
<line x1="8.3" y1="238.71" x2="10.5" y2="238.71" stroke="#555" stroke-width="0.6"/>
<line x1="11.7" y1="239.88" x2="18.5" y2="239.88" stroke="#e4cc60" stroke-width="0.9"/>
<line x1="13.2" y1="240.38" x2="15.1" y2="240.38" stroke="#9a8a40" stroke-width="0.7"/>
<line x1="10.9" y1="238.64" x2="12.1" y2="241.11" stroke="#2a2a2a" stroke-width="0.75"/>
<line x1="12.4" y1="241.12" x2="18.4" y2="241.12" stroke="#e4cc60" stroke-width="0.9"/>
<line x1="11.4" y1="239.57" x2="12.6" y2="242.67" stroke="#2a2a2a" stroke-width="0.75"/>
<line x1="11.8" y1="242.37" x2="19.6" y2="242.37" stroke="#e4cc60" stroke-width="0.9"/>
<line x1="15.4" y1="242.87" x2="18.6" y2="242.87" stroke="#9a8a40" stroke-width="0.7"/>
<line x1="12.7" y1="243.32" x2="21.1" y2="243.32" stroke="#8a7430" stroke-width="0.9"/>
<line x1="13.8" y1="243.82" x2="16.2" y2="243.82" stroke="#9a8a40" stroke-width="0.7"/>
<line x1="11.2" y1="240.53" x2="12.4" y2="246.11" stroke="#2a2a2a" stroke-width="0.75"/>
<line x1="8.3" y1="243.32" x2="11.8" y2="243.32" stroke="#555" stroke-width="0.6"/>
<line x1="11.7" y1="244.56" x2="20.9" y2="244.56" stroke="#b89838" stroke-width="0.9"/>
<line x1="11.4" y1="245.50" x2="20.8" y2="245.50" stroke="#a88c30" stroke-width="0.9"/>
<line x1="10.5" y1="244.33" x2="11.7" y2="246.67" stroke="#2a2a2a" stroke-width="0.75"/>
<line x1="8.3" y1="245.50" x2="11.1" y2="245.50" stroke="#555" stroke-width="0.6"/>
<line x1="11.5" y1="247.08" x2="16.8" y2="247.08" stroke="#e4cc60" stroke-width="0.9"/>
<line x1="10.5" y1="245.68" x2="11.7" y2="248.49" stroke="#2a2a2a" stroke-width="0.75"/>
<line x1="11.5" y1="248.09" x2="19.0" y2="248.09" stroke="#8a7430" stroke-width="0.9"/>
<line x1="15.9" y1="248.59" x2="18.7" y2="248.59" stroke="#9a8a40" stroke-width="0.7"/>
<line x1="11.2" y1="249.41" x2="19.3" y2="249.41" stroke="#6a6040" stroke-width="0.9"/>
<line x1="12.9" y1="249.91" x2="16.5" y2="249.91" stroke="#9a8a40" stroke-width="0.7"/>
<line x1="9.4" y1="246.76" x2="10.6" y2="252.06" stroke="#2a2a2a" stroke-width="0.75"/>
<line x1="8.3" y1="249.41" x2="10.0" y2="249.41" stroke="#555" stroke-width="0.6"/>
<path d="M14.7,239.6 L19.6,236.4 L19.6,238.4 L27.2,238.4 L27.2,240.8 L19.6,240.8 L19.6,242.8 Z" fill="#c0181e"/>
<path d="M9.0,255.3 L135.8,261.8 L9.0,261.9 Z" fill="#dcdcdc" stroke="#333" stroke-width="1.0" stroke-linejoin="round"/>
<text transform="translate(73.5,269.9) scale(0.655,1)" text-anchor="middle" font-size="9.4" font-weight="bold" fill="#1a1a1a">Sequence similarity</text>
<text x="9.0" y="16.6" font-size="11" font-weight="bold" fill="#000" stroke="#000" stroke-width="0.3">A</text>
<rect x="0.7" y="0.7" width="518.6" height="273.6" fill="none" stroke="#000" stroke-width="1.4"/>
</svg>
</body></html>
